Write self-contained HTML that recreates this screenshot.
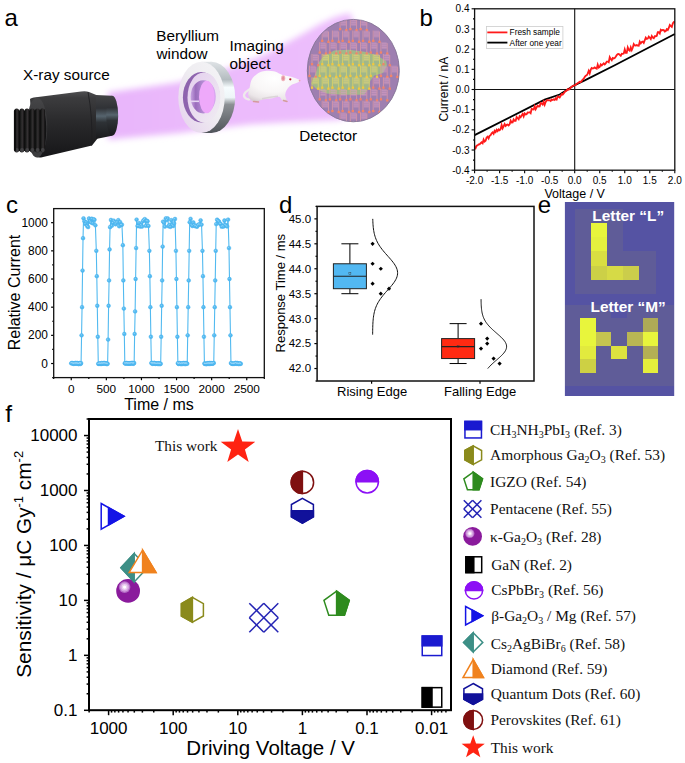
<!DOCTYPE html>
<html><head><meta charset="utf-8"><style>
html,body{margin:0;padding:0;background:#fff;}
body{width:685px;height:763px;overflow:hidden;font-family:"Liberation Sans",sans-serif;}
svg{display:block;}
</style></head><body>
<svg width="685" height="763" viewBox="0 0 685 763">
<rect width="685" height="763" fill="#fff"/>
<defs>
<filter id="blur5" x="-20%" y="-30%" width="140%" height="160%"><feGaussianBlur stdDeviation="3.2"/></filter>
<filter id="blur2" x="-20%" y="-20%" width="140%" height="140%"><feGaussianBlur stdDeviation="1.3"/></filter>
<filter id="blur1" x="-20%" y="-20%" width="140%" height="140%"><feGaussianBlur stdDeviation="0.6"/></filter>
<filter id="blur08" x="-20%" y="-20%" width="140%" height="140%"><feGaussianBlur stdDeviation="0.45"/></filter>
<linearGradient id="beamG" x1="0" y1="0" x2="1" y2="0">
 <stop offset="0" stop-color="#e8b5fb"/><stop offset="0.4" stop-color="#ebbafc"/><stop offset="1" stop-color="#edbefc"/>
</linearGradient>
<linearGradient id="bodyG" x1="0" y1="0" x2="0" y2="1">
 <stop offset="0" stop-color="#505052"/><stop offset="0.1" stop-color="#3c3c3e"/><stop offset="0.45" stop-color="#2a2a2c"/><stop offset="1" stop-color="#161618"/>
</linearGradient>
<linearGradient id="noseG" x1="0" y1="0" x2="0" y2="1">
 <stop offset="0" stop-color="#444446"/><stop offset="0.3" stop-color="#303236"/><stop offset="0.48" stop-color="#56646e"/><stop offset="0.62" stop-color="#2e3236"/><stop offset="1" stop-color="#1a1a1c"/>
</linearGradient>
<linearGradient id="endG" x1="0" y1="0" x2="0" y2="1">
 <stop offset="0" stop-color="#2c2e30"/><stop offset="0.45" stop-color="#5c6a74"/><stop offset="0.6" stop-color="#3a4248"/><stop offset="1" stop-color="#202224"/>
</linearGradient>
<linearGradient id="ridgeG" x1="0" y1="0" x2="1" y2="0">
 <stop offset="0" stop-color="#0a0a0a"/><stop offset="0.45" stop-color="#2a2a2a"/><stop offset="0.6" stop-color="#343032"/><stop offset="1" stop-color="#0e0e0e"/>
</linearGradient>
<linearGradient id="faceG" x1="0" y1="0" x2="0" y2="1">
 <stop offset="0" stop-color="#464648"/><stop offset="0.5" stop-color="#343436"/><stop offset="1" stop-color="#3e3e40"/>
</linearGradient>
<linearGradient id="ringFace" x1="1" y1="0" x2="0" y2="1">
 <stop offset="0" stop-color="#f4f4f6"/><stop offset="0.45" stop-color="#efedf1"/><stop offset="1" stop-color="#e6d0ee"/>
</linearGradient>
<linearGradient id="recessG" x1="0" y1="0" x2="1" y2="1">
 <stop offset="0" stop-color="#e4cfee"/><stop offset="1" stop-color="#f0ecf2"/>
</linearGradient>
<linearGradient id="ringSide" x1="0" y1="0" x2="0" y2="1">
 <stop offset="0" stop-color="#dfe3e6"/><stop offset="0.25" stop-color="#b4bcc0"/><stop offset="0.36" stop-color="#f6fcfe"/><stop offset="0.5" stop-color="#eef6f8"/><stop offset="0.6" stop-color="#8c9094"/><stop offset="1" stop-color="#50545a"/>
</linearGradient>
<linearGradient id="holeG" x1="0" y1="0" x2="1" y2="0">
 <stop offset="0" stop-color="#c8a4e2"/><stop offset="0.2" stop-color="#9a6cbc"/><stop offset="0.45" stop-color="#b088d0"/><stop offset="1" stop-color="#d8a8f0"/>
</linearGradient>
<radialGradient id="mouseG" cx="0.5" cy="0.25" r="0.8">
 <stop offset="0" stop-color="#ffffff"/><stop offset="0.55" stop-color="#f8f6f6"/><stop offset="0.85" stop-color="#ebe6e8"/><stop offset="1" stop-color="#d8d0d4"/>
</radialGradient>
<clipPath id="detClip"><ellipse cx="353.3" cy="70.6" rx="45.6" ry="50.8"/></clipPath>
</defs>
<polygon points="108,92.5 178,82.5 229,68 258,57.5 273,50.5 288,42 300,35.5 320,24 335,17 350,13 360,40 360,110 340,120 285,122.5 250,124.5 215,128.5 180,133 108,139.5" fill="url(#beamG)" filter="url(#blur5)"/>
<path d="M30,99 Q31,97.6 36,97.2 L81,91.5 Q86,90.8 89,92 L97.5,95.6 L97.5,138.5 L92,145.6 L41,157.4 Q36,158 34,155 Z" fill="url(#bodyG)"/>
<ellipse cx="37" cy="127.5" rx="10.2" ry="30" fill="url(#faceG)"/>
<ellipse cx="42" cy="130" rx="4.2" ry="21.5" fill="#121214"/>
<rect x="15" y="110.5" width="28" height="40.5" fill="#131313"/>
<rect x="14.2" y="108.6" width="4.9" height="43.8" rx="2.4" ry="2.6" fill="url(#ridgeG)"/>
<ellipse cx="16.8" cy="150" rx="2.0" ry="1.9" fill="#4a4a4c" opacity="0.75"/>
<rect x="19.4" y="108.6" width="4.9" height="43.8" rx="2.4" ry="2.6" fill="url(#ridgeG)"/>
<ellipse cx="22.0" cy="150" rx="2.0" ry="1.9" fill="#4a4a4c" opacity="0.75"/>
<rect x="24.6" y="108.6" width="4.9" height="43.8" rx="2.4" ry="2.6" fill="url(#ridgeG)"/>
<ellipse cx="27.2" cy="150" rx="2.0" ry="1.9" fill="#4a4a4c" opacity="0.75"/>
<rect x="29.8" y="108.6" width="4.9" height="43.8" rx="2.4" ry="2.6" fill="url(#ridgeG)"/>
<ellipse cx="32.4" cy="150" rx="2.0" ry="1.9" fill="#4a4a4c" opacity="0.75"/>
<rect x="35.0" y="108.6" width="4.9" height="43.8" rx="2.4" ry="2.6" fill="url(#ridgeG)"/>
<ellipse cx="37.6" cy="150" rx="2.0" ry="1.9" fill="#4a4a4c" opacity="0.75"/>
<rect x="40.2" y="108.6" width="4.9" height="43.8" rx="2.4" ry="2.6" fill="url(#ridgeG)"/>
<ellipse cx="42.8" cy="150" rx="2.0" ry="1.9" fill="#4a4a4c" opacity="0.75"/>
<rect x="13.9" y="110" width="2.2" height="41" rx="1.1" fill="#0c0c0c"/>
<path d="M96,95 L112,95.7 L112,135.7 L96,139 Z" fill="url(#noseG)"/>
<ellipse cx="112.2" cy="115.7" rx="6" ry="20" fill="url(#noseG)"/>
<path d="M88,92 Q93,118 91.5,145.5" stroke="#1e1e20" stroke-width="1" fill="none" opacity="0.8"/>
<ellipse cx="211.5" cy="97.4" rx="23.7" ry="35.6" fill="url(#ringSide)"/>
<rect x="201.5" y="61.8" width="10" height="71.2" fill="url(#ringSide)"/>
<ellipse cx="201.5" cy="97.4" rx="23.2" ry="35.6" fill="url(#ringFace)"/>
<ellipse cx="201.3" cy="97.2" rx="18.4" ry="25.2" fill="#8e64ae"/>
<ellipse cx="203.9" cy="97.4" rx="16.4" ry="25.0" fill="url(#recessG)"/>
<ellipse cx="203.2" cy="96.8" rx="12.6" ry="16.6" fill="url(#holeG)"/>
<ellipse cx="206.8" cy="97" rx="7.8" ry="16.2" fill="#eea9fa" filter="url(#blur08)"/>
<path d="M191,101.3 L199,101.3" stroke="#e4d4f2" stroke-width="1.6"/>
<g filter="url(#blur08)">
<path d="M250.00,89.00 C249.25,89.55 246.50,91.13 245.50,92.30 C244.50,93.47 243.88,94.95 244.00,96.00 C244.12,97.05 245.37,98.02 246.20,98.60 C247.03,99.18 248.53,99.35 249.00,99.50" stroke="#efeaec" stroke-width="2.3" fill="none" stroke-linecap="round"/>
<path d="M249.70,87.20 C250.32,84.52 250.57,81.50 251.90,79.20 C253.23,76.90 255.52,74.78 257.70,73.40 C259.88,72.02 262.32,71.27 265.00,70.90 C267.68,70.53 271.23,70.67 273.80,71.20 C276.37,71.73 278.70,73.37 280.40,74.10 C282.10,74.83 282.67,75.23 284.00,75.60 C285.33,75.97 286.70,75.95 288.40,76.30 C290.10,76.65 292.30,77.05 294.20,77.70 C296.10,78.35 299.30,79.35 299.80,80.20 C300.30,81.05 298.62,82.00 297.20,82.80 C295.78,83.60 293.00,83.90 291.30,85.00 C289.60,86.10 288.02,87.73 287.00,89.40 C285.98,91.07 285.27,93.13 285.20,95.00 C285.13,96.87 286.97,99.57 286.60,100.60 C286.23,101.63 284.27,101.85 283.00,101.20 C281.73,100.55 281.02,97.13 279.00,96.70 C276.98,96.27 273.72,98.08 270.90,98.60 C268.08,99.12 264.58,99.30 262.10,99.80 C259.62,100.30 257.82,101.53 256.00,101.60 C254.18,101.67 252.50,101.25 251.20,100.20 C249.90,99.15 248.45,97.47 248.20,95.30 C247.95,93.13 249.08,89.88 249.70,87.20 Z" fill="url(#mouseG)"/>
<path d="M262,98.8 Q270,97 278,96.2" stroke="#d6d0d2" stroke-width="1.6" fill="none" opacity="0.8"/>
<ellipse cx="283.2" cy="78.2" rx="2.1" ry="3.0" fill="#f0b4bc"/>
<ellipse cx="283.2" cy="78.2" rx="1.1" ry="1.9" fill="#e48e9c"/>
<circle cx="290.3" cy="79.3" r="1.15" fill="#b82434"/>
<circle cx="299.6" cy="80.6" r="0.9" fill="#f0a8b4"/>
<path d="M253.5,101.4 L258.5,101.9" stroke="#d49a9c" stroke-width="1.5" stroke-linecap="round"/>
<path d="M283.5,100.6 L287,101.4" stroke="#d49a9c" stroke-width="1.5" stroke-linecap="round"/>
</g>
<ellipse cx="353.3" cy="70.6" rx="46" ry="51.2" fill="#9e7fb0"/>
<ellipse cx="353.3" cy="70.6" rx="46" ry="51.2" fill="none" stroke="#857595" stroke-width="0.9"/>
<g clip-path="url(#detClip)">
<path d="M324,57.3 L334.2,51.5 L348.8,50.8 L366.3,53 L378,57.3 L385.3,61.7 L386,65.4 L382.4,72 L373.6,74.9 L369.2,80.7 L367.8,88 L363.4,93.8 L341.5,93.8 L326.9,92.4 L316.7,88 L312.3,83.6 L316.7,73.4 L319.6,63.2 Z" fill="#a0b78a" stroke="#a0b78a" stroke-width="2" stroke-linejoin="round" filter="url(#blur1)"/>
<rect x="340.9" y="18.8" width="5" height="7" fill="#dba0c4" opacity="0.35"/>
<path d="M340.9,20.4 h5 M340.9,22.3 h5 M340.9,24.2 h5" stroke="#dba0c4" stroke-width="0.6" opacity="0.7"/>
<path d="M340.1,18.8 V28.4 M346.4,19.8 V29.4" stroke="#eea0a4" stroke-width="0.75" opacity="0.85"/>
<rect x="339.0" y="28.0" width="2.3" height="2.3" fill="#f28468"/><rect x="345.2" y="29.0" width="2.3" height="2.3" fill="#f28468"/>
<rect x="351.1" y="18.8" width="5" height="7" fill="#dba0c4" opacity="0.35"/>
<path d="M351.1,20.4 h5 M351.1,22.3 h5 M351.1,24.2 h5" stroke="#dba0c4" stroke-width="0.6" opacity="0.7"/>
<path d="M350.3,18.8 V28.4 M356.6,19.8 V29.4" stroke="#eea0a4" stroke-width="0.75" opacity="0.85"/>
<rect x="349.2" y="28.0" width="2.3" height="2.3" fill="#f28468"/><rect x="355.4" y="29.0" width="2.3" height="2.3" fill="#f28468"/>
<rect x="361.3" y="18.8" width="5" height="7" fill="#dba0c4" opacity="0.35"/>
<path d="M361.3,20.4 h5 M361.3,22.3 h5 M361.3,24.2 h5" stroke="#dba0c4" stroke-width="0.6" opacity="0.7"/>
<path d="M360.5,18.8 V28.4 M366.8,19.8 V29.4" stroke="#eea0a4" stroke-width="0.75" opacity="0.85"/>
<rect x="359.4" y="28.0" width="2.3" height="2.3" fill="#f28468"/><rect x="365.6" y="29.0" width="2.3" height="2.3" fill="#f28468"/>
<rect x="323.0" y="30.5" width="5" height="7" fill="#dba0c4" opacity="0.35"/>
<path d="M323.0,32.1 h5 M323.0,34.0 h5 M323.0,35.9 h5" stroke="#dba0c4" stroke-width="0.6" opacity="0.7"/>
<path d="M322.2,30.5 V40.1 M328.5,31.5 V41.1" stroke="#eea0a4" stroke-width="0.75" opacity="0.85"/>
<rect x="321.1" y="39.7" width="2.3" height="2.3" fill="#f28468"/><rect x="327.3" y="40.7" width="2.3" height="2.3" fill="#f28468"/>
<rect x="333.2" y="30.5" width="5" height="7" fill="#dba0c4" opacity="0.35"/>
<path d="M333.2,32.1 h5 M333.2,34.0 h5 M333.2,35.9 h5" stroke="#dba0c4" stroke-width="0.6" opacity="0.7"/>
<path d="M332.4,30.5 V40.1 M338.7,31.5 V41.1" stroke="#eea0a4" stroke-width="0.75" opacity="0.85"/>
<rect x="331.3" y="39.7" width="2.3" height="2.3" fill="#f28468"/><rect x="337.6" y="40.7" width="2.3" height="2.3" fill="#f28468"/>
<rect x="343.4" y="30.5" width="5" height="7" fill="#dba0c4" opacity="0.35"/>
<path d="M343.4,32.1 h5 M343.4,34.0 h5 M343.4,35.9 h5" stroke="#dba0c4" stroke-width="0.6" opacity="0.7"/>
<path d="M342.6,30.5 V40.1 M348.9,31.5 V41.1" stroke="#eea0a4" stroke-width="0.75" opacity="0.85"/>
<rect x="341.5" y="39.7" width="2.3" height="2.3" fill="#f28468"/><rect x="347.8" y="40.7" width="2.3" height="2.3" fill="#f28468"/>
<rect x="353.6" y="30.5" width="5" height="7" fill="#dba0c4" opacity="0.35"/>
<path d="M353.6,32.1 h5 M353.6,34.0 h5 M353.6,35.9 h5" stroke="#dba0c4" stroke-width="0.6" opacity="0.7"/>
<path d="M352.8,30.5 V40.1 M359.1,31.5 V41.1" stroke="#eea0a4" stroke-width="0.75" opacity="0.85"/>
<rect x="351.7" y="39.7" width="2.3" height="2.3" fill="#f28468"/><rect x="357.9" y="40.7" width="2.3" height="2.3" fill="#f28468"/>
<rect x="363.8" y="30.5" width="5" height="7" fill="#dba0c4" opacity="0.35"/>
<path d="M363.8,32.1 h5 M363.8,34.0 h5 M363.8,35.9 h5" stroke="#dba0c4" stroke-width="0.6" opacity="0.7"/>
<path d="M363.0,30.5 V40.1 M369.3,31.5 V41.1" stroke="#eea0a4" stroke-width="0.75" opacity="0.85"/>
<rect x="361.9" y="39.7" width="2.3" height="2.3" fill="#f28468"/><rect x="368.1" y="40.7" width="2.3" height="2.3" fill="#f28468"/>
<rect x="374.0" y="30.5" width="5" height="7" fill="#dba0c4" opacity="0.35"/>
<path d="M374.0,32.1 h5 M374.0,34.0 h5 M374.0,35.9 h5" stroke="#dba0c4" stroke-width="0.6" opacity="0.7"/>
<path d="M373.2,30.5 V40.1 M379.5,31.5 V41.1" stroke="#eea0a4" stroke-width="0.75" opacity="0.85"/>
<rect x="372.1" y="39.7" width="2.3" height="2.3" fill="#f28468"/><rect x="378.3" y="40.7" width="2.3" height="2.3" fill="#f28468"/>
<rect x="320.5" y="42.2" width="5" height="7" fill="#dba0c4" opacity="0.35"/>
<path d="M320.5,43.8 h5 M320.5,45.7 h5 M320.5,47.6 h5" stroke="#dba0c4" stroke-width="0.6" opacity="0.7"/>
<path d="M319.7,42.2 V51.8 M326.0,43.2 V52.8" stroke="#eea0a4" stroke-width="0.75" opacity="0.85"/>
<rect x="318.6" y="51.4" width="2.3" height="2.3" fill="#f28468"/><rect x="324.8" y="52.4" width="2.3" height="2.3" fill="#f28468"/>
<rect x="330.7" y="42.2" width="5" height="7" fill="#dba0c4" opacity="0.35"/>
<path d="M330.7,43.8 h5 M330.7,45.7 h5 M330.7,47.6 h5" stroke="#dba0c4" stroke-width="0.6" opacity="0.7"/>
<path d="M329.9,42.2 V51.8 M336.2,43.2 V52.8" stroke="#eea0a4" stroke-width="0.75" opacity="0.85"/>
<rect x="328.8" y="51.4" width="2.3" height="2.3" fill="#f28468"/><rect x="335.1" y="52.4" width="2.3" height="2.3" fill="#f28468"/>
<rect x="340.9" y="42.2" width="5" height="7" fill="#dba0c4" opacity="0.35"/>
<path d="M340.9,43.8 h5 M340.9,45.7 h5 M340.9,47.6 h5" stroke="#dba0c4" stroke-width="0.6" opacity="0.7"/>
<path d="M340.1,42.2 V51.8 M346.4,43.2 V52.8" stroke="#eea0a4" stroke-width="0.75" opacity="0.85"/>
<rect x="339.0" y="51.4" width="2.3" height="2.3" fill="#f28468"/><rect x="345.2" y="52.4" width="2.3" height="2.3" fill="#f28468"/>
<rect x="351.1" y="42.2" width="5" height="7" fill="#dba0c4" opacity="0.35"/>
<path d="M351.1,43.8 h5 M351.1,45.7 h5 M351.1,47.6 h5" stroke="#dba0c4" stroke-width="0.6" opacity="0.7"/>
<path d="M350.3,42.2 V51.8 M356.6,43.2 V52.8" stroke="#eea0a4" stroke-width="0.75" opacity="0.85"/>
<rect x="349.2" y="51.4" width="2.3" height="2.3" fill="#f28468"/><rect x="355.4" y="52.4" width="2.3" height="2.3" fill="#f28468"/>
<rect x="361.3" y="42.2" width="5" height="7" fill="#dba0c4" opacity="0.35"/>
<path d="M361.3,43.8 h5 M361.3,45.7 h5 M361.3,47.6 h5" stroke="#dba0c4" stroke-width="0.6" opacity="0.7"/>
<path d="M360.5,42.2 V51.8 M366.8,43.2 V52.8" stroke="#eea0a4" stroke-width="0.75" opacity="0.85"/>
<rect x="359.4" y="51.4" width="2.3" height="2.3" fill="#f28468"/><rect x="365.6" y="52.4" width="2.3" height="2.3" fill="#f28468"/>
<rect x="371.5" y="42.2" width="5" height="7" fill="#dba0c4" opacity="0.35"/>
<path d="M371.5,43.8 h5 M371.5,45.7 h5 M371.5,47.6 h5" stroke="#dba0c4" stroke-width="0.6" opacity="0.7"/>
<path d="M370.7,42.2 V51.8 M377.0,43.2 V52.8" stroke="#eea0a4" stroke-width="0.75" opacity="0.85"/>
<rect x="369.6" y="51.4" width="2.3" height="2.3" fill="#f28468"/><rect x="375.8" y="52.4" width="2.3" height="2.3" fill="#f28468"/>
<rect x="381.7" y="42.2" width="5" height="7" fill="#dba0c4" opacity="0.35"/>
<path d="M381.7,43.8 h5 M381.7,45.7 h5 M381.7,47.6 h5" stroke="#dba0c4" stroke-width="0.6" opacity="0.7"/>
<path d="M380.9,42.2 V51.8 M387.2,43.2 V52.8" stroke="#eea0a4" stroke-width="0.75" opacity="0.85"/>
<rect x="379.8" y="51.4" width="2.3" height="2.3" fill="#f28468"/><rect x="386.1" y="52.4" width="2.3" height="2.3" fill="#f28468"/>
<rect x="312.8" y="53.9" width="5" height="7" fill="#dba0c4" opacity="0.35"/>
<path d="M312.8,55.5 h5 M312.8,57.4 h5 M312.8,59.3 h5" stroke="#dba0c4" stroke-width="0.6" opacity="0.7"/>
<path d="M312.0,53.9 V63.5 M318.3,54.9 V64.5" stroke="#eea0a4" stroke-width="0.75" opacity="0.85"/>
<rect x="310.9" y="63.1" width="2.3" height="2.3" fill="#f28468"/><rect x="317.1" y="64.1" width="2.3" height="2.3" fill="#f28468"/>
<rect x="323.0" y="53.9" width="5" height="7" fill="#e8d878" opacity="0.35"/>
<path d="M323.0,55.5 h5 M323.0,57.4 h5 M323.0,59.3 h5" stroke="#e8d878" stroke-width="0.6" opacity="0.7"/>
<path d="M322.2,53.9 V63.5 M328.5,54.9 V64.5" stroke="#eedc5c" stroke-width="0.75" opacity="0.85"/>
<rect x="321.1" y="63.1" width="2.3" height="2.3" fill="#f2c83c"/><rect x="327.3" y="64.1" width="2.3" height="2.3" fill="#f2c83c"/>
<rect x="333.2" y="53.9" width="5" height="7" fill="#e8d878" opacity="0.35"/>
<path d="M333.2,55.5 h5 M333.2,57.4 h5 M333.2,59.3 h5" stroke="#e8d878" stroke-width="0.6" opacity="0.7"/>
<path d="M332.4,53.9 V63.5 M338.7,54.9 V64.5" stroke="#eedc5c" stroke-width="0.75" opacity="0.85"/>
<rect x="331.3" y="63.1" width="2.3" height="2.3" fill="#f2c83c"/><rect x="337.6" y="64.1" width="2.3" height="2.3" fill="#f2c83c"/>
<rect x="343.4" y="53.9" width="5" height="7" fill="#e8d878" opacity="0.35"/>
<path d="M343.4,55.5 h5 M343.4,57.4 h5 M343.4,59.3 h5" stroke="#e8d878" stroke-width="0.6" opacity="0.7"/>
<path d="M342.6,53.9 V63.5 M348.9,54.9 V64.5" stroke="#eedc5c" stroke-width="0.75" opacity="0.85"/>
<rect x="341.5" y="63.1" width="2.3" height="2.3" fill="#f2c83c"/><rect x="347.8" y="64.1" width="2.3" height="2.3" fill="#f2c83c"/>
<rect x="353.6" y="53.9" width="5" height="7" fill="#e8d878" opacity="0.35"/>
<path d="M353.6,55.5 h5 M353.6,57.4 h5 M353.6,59.3 h5" stroke="#e8d878" stroke-width="0.6" opacity="0.7"/>
<path d="M352.8,53.9 V63.5 M359.1,54.9 V64.5" stroke="#eedc5c" stroke-width="0.75" opacity="0.85"/>
<rect x="351.7" y="63.1" width="2.3" height="2.3" fill="#f2c83c"/><rect x="357.9" y="64.1" width="2.3" height="2.3" fill="#f2c83c"/>
<rect x="363.8" y="53.9" width="5" height="7" fill="#e8d878" opacity="0.35"/>
<path d="M363.8,55.5 h5 M363.8,57.4 h5 M363.8,59.3 h5" stroke="#e8d878" stroke-width="0.6" opacity="0.7"/>
<path d="M363.0,53.9 V63.5 M369.3,54.9 V64.5" stroke="#eedc5c" stroke-width="0.75" opacity="0.85"/>
<rect x="361.9" y="63.1" width="2.3" height="2.3" fill="#f2c83c"/><rect x="368.1" y="64.1" width="2.3" height="2.3" fill="#f2c83c"/>
<rect x="374.0" y="53.9" width="5" height="7" fill="#e8d878" opacity="0.35"/>
<path d="M374.0,55.5 h5 M374.0,57.4 h5 M374.0,59.3 h5" stroke="#e8d878" stroke-width="0.6" opacity="0.7"/>
<path d="M373.2,53.9 V63.5 M379.5,54.9 V64.5" stroke="#eedc5c" stroke-width="0.75" opacity="0.85"/>
<rect x="372.1" y="63.1" width="2.3" height="2.3" fill="#f2c83c"/><rect x="378.3" y="64.1" width="2.3" height="2.3" fill="#f2c83c"/>
<rect x="384.2" y="53.9" width="5" height="7" fill="#dba0c4" opacity="0.35"/>
<path d="M384.2,55.5 h5 M384.2,57.4 h5 M384.2,59.3 h5" stroke="#dba0c4" stroke-width="0.6" opacity="0.7"/>
<path d="M383.4,53.9 V63.5 M389.7,54.9 V64.5" stroke="#eea0a4" stroke-width="0.75" opacity="0.85"/>
<rect x="382.3" y="63.1" width="2.3" height="2.3" fill="#f28468"/><rect x="388.6" y="64.1" width="2.3" height="2.3" fill="#f28468"/>
<rect x="310.3" y="65.6" width="5" height="7" fill="#dba0c4" opacity="0.35"/>
<path d="M310.3,67.2 h5 M310.3,69.1 h5 M310.3,71.0 h5" stroke="#dba0c4" stroke-width="0.6" opacity="0.7"/>
<path d="M309.5,65.6 V75.2 M315.8,66.6 V76.2" stroke="#eea0a4" stroke-width="0.75" opacity="0.85"/>
<rect x="308.4" y="74.8" width="2.3" height="2.3" fill="#f28468"/><rect x="314.6" y="75.8" width="2.3" height="2.3" fill="#f28468"/>
<rect x="320.5" y="65.6" width="5" height="7" fill="#e8d878" opacity="0.35"/>
<path d="M320.5,67.2 h5 M320.5,69.1 h5 M320.5,71.0 h5" stroke="#e8d878" stroke-width="0.6" opacity="0.7"/>
<path d="M319.7,65.6 V75.2 M326.0,66.6 V76.2" stroke="#eedc5c" stroke-width="0.75" opacity="0.85"/>
<rect x="318.6" y="74.8" width="2.3" height="2.3" fill="#f2c83c"/><rect x="324.8" y="75.8" width="2.3" height="2.3" fill="#f2c83c"/>
<rect x="330.7" y="65.6" width="5" height="7" fill="#e8d878" opacity="0.35"/>
<path d="M330.7,67.2 h5 M330.7,69.1 h5 M330.7,71.0 h5" stroke="#e8d878" stroke-width="0.6" opacity="0.7"/>
<path d="M329.9,65.6 V75.2 M336.2,66.6 V76.2" stroke="#eedc5c" stroke-width="0.75" opacity="0.85"/>
<rect x="328.8" y="74.8" width="2.3" height="2.3" fill="#f2c83c"/><rect x="335.1" y="75.8" width="2.3" height="2.3" fill="#f2c83c"/>
<rect x="340.9" y="65.6" width="5" height="7" fill="#e8d878" opacity="0.35"/>
<path d="M340.9,67.2 h5 M340.9,69.1 h5 M340.9,71.0 h5" stroke="#e8d878" stroke-width="0.6" opacity="0.7"/>
<path d="M340.1,65.6 V75.2 M346.4,66.6 V76.2" stroke="#eedc5c" stroke-width="0.75" opacity="0.85"/>
<rect x="339.0" y="74.8" width="2.3" height="2.3" fill="#f2c83c"/><rect x="345.2" y="75.8" width="2.3" height="2.3" fill="#f2c83c"/>
<rect x="351.1" y="65.6" width="5" height="7" fill="#e8d878" opacity="0.35"/>
<path d="M351.1,67.2 h5 M351.1,69.1 h5 M351.1,71.0 h5" stroke="#e8d878" stroke-width="0.6" opacity="0.7"/>
<path d="M350.3,65.6 V75.2 M356.6,66.6 V76.2" stroke="#eedc5c" stroke-width="0.75" opacity="0.85"/>
<rect x="349.2" y="74.8" width="2.3" height="2.3" fill="#f2c83c"/><rect x="355.4" y="75.8" width="2.3" height="2.3" fill="#f2c83c"/>
<rect x="361.3" y="65.6" width="5" height="7" fill="#e8d878" opacity="0.35"/>
<path d="M361.3,67.2 h5 M361.3,69.1 h5 M361.3,71.0 h5" stroke="#e8d878" stroke-width="0.6" opacity="0.7"/>
<path d="M360.5,65.6 V75.2 M366.8,66.6 V76.2" stroke="#eedc5c" stroke-width="0.75" opacity="0.85"/>
<rect x="359.4" y="74.8" width="2.3" height="2.3" fill="#f2c83c"/><rect x="365.6" y="75.8" width="2.3" height="2.3" fill="#f2c83c"/>
<rect x="371.5" y="65.6" width="5" height="7" fill="#e8d878" opacity="0.35"/>
<path d="M371.5,67.2 h5 M371.5,69.1 h5 M371.5,71.0 h5" stroke="#e8d878" stroke-width="0.6" opacity="0.7"/>
<path d="M370.7,65.6 V75.2 M377.0,66.6 V76.2" stroke="#eedc5c" stroke-width="0.75" opacity="0.85"/>
<rect x="369.6" y="74.8" width="2.3" height="2.3" fill="#f2c83c"/><rect x="375.8" y="75.8" width="2.3" height="2.3" fill="#f2c83c"/>
<rect x="381.7" y="65.6" width="5" height="7" fill="#dba0c4" opacity="0.35"/>
<path d="M381.7,67.2 h5 M381.7,69.1 h5 M381.7,71.0 h5" stroke="#dba0c4" stroke-width="0.6" opacity="0.7"/>
<path d="M380.9,65.6 V75.2 M387.2,66.6 V76.2" stroke="#eea0a4" stroke-width="0.75" opacity="0.85"/>
<rect x="379.8" y="74.8" width="2.3" height="2.3" fill="#f28468"/><rect x="386.1" y="75.8" width="2.3" height="2.3" fill="#f28468"/>
<rect x="391.9" y="65.6" width="5" height="7" fill="#dba0c4" opacity="0.35"/>
<path d="M391.9,67.2 h5 M391.9,69.1 h5 M391.9,71.0 h5" stroke="#dba0c4" stroke-width="0.6" opacity="0.7"/>
<path d="M391.1,65.6 V75.2 M397.4,66.6 V76.2" stroke="#eea0a4" stroke-width="0.75" opacity="0.85"/>
<rect x="390.0" y="74.8" width="2.3" height="2.3" fill="#f28468"/><rect x="396.2" y="75.8" width="2.3" height="2.3" fill="#f28468"/>
<rect x="312.8" y="77.3" width="5" height="7" fill="#e8d878" opacity="0.35"/>
<path d="M312.8,78.9 h5 M312.8,80.8 h5 M312.8,82.7 h5" stroke="#e8d878" stroke-width="0.6" opacity="0.7"/>
<path d="M312.0,77.3 V86.9 M318.3,78.3 V87.9" stroke="#eedc5c" stroke-width="0.75" opacity="0.85"/>
<rect x="310.9" y="86.5" width="2.3" height="2.3" fill="#f2c83c"/><rect x="317.1" y="87.5" width="2.3" height="2.3" fill="#f2c83c"/>
<rect x="323.0" y="77.3" width="5" height="7" fill="#e8d878" opacity="0.35"/>
<path d="M323.0,78.9 h5 M323.0,80.8 h5 M323.0,82.7 h5" stroke="#e8d878" stroke-width="0.6" opacity="0.7"/>
<path d="M322.2,77.3 V86.9 M328.5,78.3 V87.9" stroke="#eedc5c" stroke-width="0.75" opacity="0.85"/>
<rect x="321.1" y="86.5" width="2.3" height="2.3" fill="#f2c83c"/><rect x="327.3" y="87.5" width="2.3" height="2.3" fill="#f2c83c"/>
<rect x="333.2" y="77.3" width="5" height="7" fill="#e8d878" opacity="0.35"/>
<path d="M333.2,78.9 h5 M333.2,80.8 h5 M333.2,82.7 h5" stroke="#e8d878" stroke-width="0.6" opacity="0.7"/>
<path d="M332.4,77.3 V86.9 M338.7,78.3 V87.9" stroke="#eedc5c" stroke-width="0.75" opacity="0.85"/>
<rect x="331.3" y="86.5" width="2.3" height="2.3" fill="#f2c83c"/><rect x="337.6" y="87.5" width="2.3" height="2.3" fill="#f2c83c"/>
<rect x="343.4" y="77.3" width="5" height="7" fill="#e8d878" opacity="0.35"/>
<path d="M343.4,78.9 h5 M343.4,80.8 h5 M343.4,82.7 h5" stroke="#e8d878" stroke-width="0.6" opacity="0.7"/>
<path d="M342.6,77.3 V86.9 M348.9,78.3 V87.9" stroke="#eedc5c" stroke-width="0.75" opacity="0.85"/>
<rect x="341.5" y="86.5" width="2.3" height="2.3" fill="#f2c83c"/><rect x="347.8" y="87.5" width="2.3" height="2.3" fill="#f2c83c"/>
<rect x="353.6" y="77.3" width="5" height="7" fill="#e8d878" opacity="0.35"/>
<path d="M353.6,78.9 h5 M353.6,80.8 h5 M353.6,82.7 h5" stroke="#e8d878" stroke-width="0.6" opacity="0.7"/>
<path d="M352.8,77.3 V86.9 M359.1,78.3 V87.9" stroke="#eedc5c" stroke-width="0.75" opacity="0.85"/>
<rect x="351.7" y="86.5" width="2.3" height="2.3" fill="#f2c83c"/><rect x="357.9" y="87.5" width="2.3" height="2.3" fill="#f2c83c"/>
<rect x="363.8" y="77.3" width="5" height="7" fill="#e8d878" opacity="0.35"/>
<path d="M363.8,78.9 h5 M363.8,80.8 h5 M363.8,82.7 h5" stroke="#e8d878" stroke-width="0.6" opacity="0.7"/>
<path d="M363.0,77.3 V86.9 M369.3,78.3 V87.9" stroke="#eedc5c" stroke-width="0.75" opacity="0.85"/>
<rect x="361.9" y="86.5" width="2.3" height="2.3" fill="#f2c83c"/><rect x="368.1" y="87.5" width="2.3" height="2.3" fill="#f2c83c"/>
<rect x="374.0" y="77.3" width="5" height="7" fill="#dba0c4" opacity="0.35"/>
<path d="M374.0,78.9 h5 M374.0,80.8 h5 M374.0,82.7 h5" stroke="#dba0c4" stroke-width="0.6" opacity="0.7"/>
<path d="M373.2,77.3 V86.9 M379.5,78.3 V87.9" stroke="#eea0a4" stroke-width="0.75" opacity="0.85"/>
<rect x="372.1" y="86.5" width="2.3" height="2.3" fill="#f28468"/><rect x="378.3" y="87.5" width="2.3" height="2.3" fill="#f28468"/>
<rect x="384.2" y="77.3" width="5" height="7" fill="#dba0c4" opacity="0.35"/>
<path d="M384.2,78.9 h5 M384.2,80.8 h5 M384.2,82.7 h5" stroke="#dba0c4" stroke-width="0.6" opacity="0.7"/>
<path d="M383.4,77.3 V86.9 M389.7,78.3 V87.9" stroke="#eea0a4" stroke-width="0.75" opacity="0.85"/>
<rect x="382.3" y="86.5" width="2.3" height="2.3" fill="#f28468"/><rect x="388.6" y="87.5" width="2.3" height="2.3" fill="#f28468"/>
<rect x="320.5" y="89.0" width="5" height="7" fill="#dba0c4" opacity="0.35"/>
<path d="M320.5,90.6 h5 M320.5,92.5 h5 M320.5,94.4 h5" stroke="#dba0c4" stroke-width="0.6" opacity="0.7"/>
<path d="M319.7,89.0 V98.6 M326.0,90.0 V99.6" stroke="#eea0a4" stroke-width="0.75" opacity="0.85"/>
<rect x="318.6" y="98.2" width="2.3" height="2.3" fill="#f28468"/><rect x="324.8" y="99.2" width="2.3" height="2.3" fill="#f28468"/>
<rect x="330.7" y="89.0" width="5" height="7" fill="#dba0c4" opacity="0.35"/>
<path d="M330.7,90.6 h5 M330.7,92.5 h5 M330.7,94.4 h5" stroke="#dba0c4" stroke-width="0.6" opacity="0.7"/>
<path d="M329.9,89.0 V98.6 M336.2,90.0 V99.6" stroke="#eea0a4" stroke-width="0.75" opacity="0.85"/>
<rect x="328.8" y="98.2" width="2.3" height="2.3" fill="#f28468"/><rect x="335.1" y="99.2" width="2.3" height="2.3" fill="#f28468"/>
<rect x="340.9" y="89.0" width="5" height="7" fill="#dba0c4" opacity="0.35"/>
<path d="M340.9,90.6 h5 M340.9,92.5 h5 M340.9,94.4 h5" stroke="#dba0c4" stroke-width="0.6" opacity="0.7"/>
<path d="M340.1,89.0 V98.6 M346.4,90.0 V99.6" stroke="#eea0a4" stroke-width="0.75" opacity="0.85"/>
<rect x="339.0" y="98.2" width="2.3" height="2.3" fill="#f28468"/><rect x="345.2" y="99.2" width="2.3" height="2.3" fill="#f28468"/>
<rect x="351.1" y="89.0" width="5" height="7" fill="#dba0c4" opacity="0.35"/>
<path d="M351.1,90.6 h5 M351.1,92.5 h5 M351.1,94.4 h5" stroke="#dba0c4" stroke-width="0.6" opacity="0.7"/>
<path d="M350.3,89.0 V98.6 M356.6,90.0 V99.6" stroke="#eea0a4" stroke-width="0.75" opacity="0.85"/>
<rect x="349.2" y="98.2" width="2.3" height="2.3" fill="#f28468"/><rect x="355.4" y="99.2" width="2.3" height="2.3" fill="#f28468"/>
<rect x="361.3" y="89.0" width="5" height="7" fill="#dba0c4" opacity="0.35"/>
<path d="M361.3,90.6 h5 M361.3,92.5 h5 M361.3,94.4 h5" stroke="#dba0c4" stroke-width="0.6" opacity="0.7"/>
<path d="M360.5,89.0 V98.6 M366.8,90.0 V99.6" stroke="#eea0a4" stroke-width="0.75" opacity="0.85"/>
<rect x="359.4" y="98.2" width="2.3" height="2.3" fill="#f28468"/><rect x="365.6" y="99.2" width="2.3" height="2.3" fill="#f28468"/>
<rect x="371.5" y="89.0" width="5" height="7" fill="#dba0c4" opacity="0.35"/>
<path d="M371.5,90.6 h5 M371.5,92.5 h5 M371.5,94.4 h5" stroke="#dba0c4" stroke-width="0.6" opacity="0.7"/>
<path d="M370.7,89.0 V98.6 M377.0,90.0 V99.6" stroke="#eea0a4" stroke-width="0.75" opacity="0.85"/>
<rect x="369.6" y="98.2" width="2.3" height="2.3" fill="#f28468"/><rect x="375.8" y="99.2" width="2.3" height="2.3" fill="#f28468"/>
<rect x="381.7" y="89.0" width="5" height="7" fill="#dba0c4" opacity="0.35"/>
<path d="M381.7,90.6 h5 M381.7,92.5 h5 M381.7,94.4 h5" stroke="#dba0c4" stroke-width="0.6" opacity="0.7"/>
<path d="M380.9,89.0 V98.6 M387.2,90.0 V99.6" stroke="#eea0a4" stroke-width="0.75" opacity="0.85"/>
<rect x="379.8" y="98.2" width="2.3" height="2.3" fill="#f28468"/><rect x="386.1" y="99.2" width="2.3" height="2.3" fill="#f28468"/>
<rect x="323.0" y="100.7" width="5" height="7" fill="#dba0c4" opacity="0.35"/>
<path d="M323.0,102.3 h5 M323.0,104.2 h5 M323.0,106.1 h5" stroke="#dba0c4" stroke-width="0.6" opacity="0.7"/>
<path d="M322.2,100.7 V110.3 M328.5,101.7 V111.3" stroke="#eea0a4" stroke-width="0.75" opacity="0.85"/>
<rect x="321.1" y="109.9" width="2.3" height="2.3" fill="#f28468"/><rect x="327.3" y="110.9" width="2.3" height="2.3" fill="#f28468"/>
<rect x="333.2" y="100.7" width="5" height="7" fill="#dba0c4" opacity="0.35"/>
<path d="M333.2,102.3 h5 M333.2,104.2 h5 M333.2,106.1 h5" stroke="#dba0c4" stroke-width="0.6" opacity="0.7"/>
<path d="M332.4,100.7 V110.3 M338.7,101.7 V111.3" stroke="#eea0a4" stroke-width="0.75" opacity="0.85"/>
<rect x="331.3" y="109.9" width="2.3" height="2.3" fill="#f28468"/><rect x="337.6" y="110.9" width="2.3" height="2.3" fill="#f28468"/>
<rect x="343.4" y="100.7" width="5" height="7" fill="#dba0c4" opacity="0.35"/>
<path d="M343.4,102.3 h5 M343.4,104.2 h5 M343.4,106.1 h5" stroke="#dba0c4" stroke-width="0.6" opacity="0.7"/>
<path d="M342.6,100.7 V110.3 M348.9,101.7 V111.3" stroke="#eea0a4" stroke-width="0.75" opacity="0.85"/>
<rect x="341.5" y="109.9" width="2.3" height="2.3" fill="#f28468"/><rect x="347.8" y="110.9" width="2.3" height="2.3" fill="#f28468"/>
<rect x="353.6" y="100.7" width="5" height="7" fill="#dba0c4" opacity="0.35"/>
<path d="M353.6,102.3 h5 M353.6,104.2 h5 M353.6,106.1 h5" stroke="#dba0c4" stroke-width="0.6" opacity="0.7"/>
<path d="M352.8,100.7 V110.3 M359.1,101.7 V111.3" stroke="#eea0a4" stroke-width="0.75" opacity="0.85"/>
<rect x="351.7" y="109.9" width="2.3" height="2.3" fill="#f28468"/><rect x="357.9" y="110.9" width="2.3" height="2.3" fill="#f28468"/>
<rect x="363.8" y="100.7" width="5" height="7" fill="#dba0c4" opacity="0.35"/>
<path d="M363.8,102.3 h5 M363.8,104.2 h5 M363.8,106.1 h5" stroke="#dba0c4" stroke-width="0.6" opacity="0.7"/>
<path d="M363.0,100.7 V110.3 M369.3,101.7 V111.3" stroke="#eea0a4" stroke-width="0.75" opacity="0.85"/>
<rect x="361.9" y="109.9" width="2.3" height="2.3" fill="#f28468"/><rect x="368.1" y="110.9" width="2.3" height="2.3" fill="#f28468"/>
<rect x="374.0" y="100.7" width="5" height="7" fill="#dba0c4" opacity="0.35"/>
<path d="M374.0,102.3 h5 M374.0,104.2 h5 M374.0,106.1 h5" stroke="#dba0c4" stroke-width="0.6" opacity="0.7"/>
<path d="M373.2,100.7 V110.3 M379.5,101.7 V111.3" stroke="#eea0a4" stroke-width="0.75" opacity="0.85"/>
<rect x="372.1" y="109.9" width="2.3" height="2.3" fill="#f28468"/><rect x="378.3" y="110.9" width="2.3" height="2.3" fill="#f28468"/>
<rect x="340.9" y="112.4" width="5" height="7" fill="#dba0c4" opacity="0.35"/>
<path d="M340.9,114.0 h5 M340.9,115.9 h5 M340.9,117.8 h5" stroke="#dba0c4" stroke-width="0.6" opacity="0.7"/>
<path d="M340.1,112.4 V122.0 M346.4,113.4 V123.0" stroke="#eea0a4" stroke-width="0.75" opacity="0.85"/>
<rect x="339.0" y="121.6" width="2.3" height="2.3" fill="#f28468"/><rect x="345.2" y="122.6" width="2.3" height="2.3" fill="#f28468"/>
<rect x="351.1" y="112.4" width="5" height="7" fill="#dba0c4" opacity="0.35"/>
<path d="M351.1,114.0 h5 M351.1,115.9 h5 M351.1,117.8 h5" stroke="#dba0c4" stroke-width="0.6" opacity="0.7"/>
<path d="M350.3,112.4 V122.0 M356.6,113.4 V123.0" stroke="#eea0a4" stroke-width="0.75" opacity="0.85"/>
<rect x="349.2" y="121.6" width="2.3" height="2.3" fill="#f28468"/><rect x="355.4" y="122.6" width="2.3" height="2.3" fill="#f28468"/>
<rect x="361.3" y="112.4" width="5" height="7" fill="#dba0c4" opacity="0.35"/>
<path d="M361.3,114.0 h5 M361.3,115.9 h5 M361.3,117.8 h5" stroke="#dba0c4" stroke-width="0.6" opacity="0.7"/>
<path d="M360.5,112.4 V122.0 M366.8,113.4 V123.0" stroke="#eea0a4" stroke-width="0.75" opacity="0.85"/>
<rect x="359.4" y="121.6" width="2.3" height="2.3" fill="#f28468"/><rect x="365.6" y="122.6" width="2.3" height="2.3" fill="#f28468"/>
</g>
<text x="23" y="79.6" font-size="15.3" font-family="Liberation Sans, sans-serif">X-ray source</text>
<text x="156.2" y="41" font-size="15.3" font-family="Liberation Sans, sans-serif">Beryllium</text>
<text x="156.5" y="59" font-size="15.3" font-family="Liberation Sans, sans-serif">window</text>
<text x="229.4" y="51" font-size="15.3" font-family="Liberation Sans, sans-serif">Imaging</text>
<text x="229.6" y="69" font-size="15.3" font-family="Liberation Sans, sans-serif">object</text>
<text x="299.3" y="141" font-size="15.3" font-family="Liberation Sans, sans-serif">Detector</text>
<text x="4.6" y="25.8" font-size="24" font-family="Liberation Sans, sans-serif">a</text>
<line x1="474.60" y1="89.50" x2="674.80" y2="89.50" stroke="#111" stroke-width="1.1" />
<line x1="574.70" y1="8.80" x2="574.70" y2="170.20" stroke="#111" stroke-width="1.1" />
<line x1="474.60" y1="170.20" x2="474.60" y2="173.20" stroke="#000" stroke-width="1.1" />
<line x1="487.11" y1="170.20" x2="487.11" y2="171.80" stroke="#000" stroke-width="1.1" />
<line x1="499.62" y1="170.20" x2="499.62" y2="173.20" stroke="#000" stroke-width="1.1" />
<line x1="512.14" y1="170.20" x2="512.14" y2="171.80" stroke="#000" stroke-width="1.1" />
<line x1="524.65" y1="170.20" x2="524.65" y2="173.20" stroke="#000" stroke-width="1.1" />
<line x1="537.16" y1="170.20" x2="537.16" y2="171.80" stroke="#000" stroke-width="1.1" />
<line x1="549.67" y1="170.20" x2="549.67" y2="173.20" stroke="#000" stroke-width="1.1" />
<line x1="562.19" y1="170.20" x2="562.19" y2="171.80" stroke="#000" stroke-width="1.1" />
<line x1="574.70" y1="170.20" x2="574.70" y2="173.20" stroke="#000" stroke-width="1.1" />
<line x1="587.21" y1="170.20" x2="587.21" y2="171.80" stroke="#000" stroke-width="1.1" />
<line x1="599.73" y1="170.20" x2="599.73" y2="173.20" stroke="#000" stroke-width="1.1" />
<line x1="612.24" y1="170.20" x2="612.24" y2="171.80" stroke="#000" stroke-width="1.1" />
<line x1="624.75" y1="170.20" x2="624.75" y2="173.20" stroke="#000" stroke-width="1.1" />
<line x1="637.26" y1="170.20" x2="637.26" y2="171.80" stroke="#000" stroke-width="1.1" />
<line x1="649.77" y1="170.20" x2="649.77" y2="173.20" stroke="#000" stroke-width="1.1" />
<line x1="662.29" y1="170.20" x2="662.29" y2="171.80" stroke="#000" stroke-width="1.1" />
<line x1="674.80" y1="170.20" x2="674.80" y2="173.20" stroke="#000" stroke-width="1.1" />
<line x1="471.60" y1="170.20" x2="474.60" y2="170.20" stroke="#000" stroke-width="1.1" />
<line x1="473.00" y1="160.11" x2="474.60" y2="160.11" stroke="#000" stroke-width="1.1" />
<line x1="471.60" y1="150.02" x2="474.60" y2="150.02" stroke="#000" stroke-width="1.1" />
<line x1="473.00" y1="139.94" x2="474.60" y2="139.94" stroke="#000" stroke-width="1.1" />
<line x1="471.60" y1="129.85" x2="474.60" y2="129.85" stroke="#000" stroke-width="1.1" />
<line x1="473.00" y1="119.76" x2="474.60" y2="119.76" stroke="#000" stroke-width="1.1" />
<line x1="471.60" y1="109.67" x2="474.60" y2="109.67" stroke="#000" stroke-width="1.1" />
<line x1="473.00" y1="99.59" x2="474.60" y2="99.59" stroke="#000" stroke-width="1.1" />
<line x1="471.60" y1="89.50" x2="474.60" y2="89.50" stroke="#000" stroke-width="1.1" />
<line x1="473.00" y1="79.41" x2="474.60" y2="79.41" stroke="#000" stroke-width="1.1" />
<line x1="471.60" y1="69.33" x2="474.60" y2="69.33" stroke="#000" stroke-width="1.1" />
<line x1="473.00" y1="59.24" x2="474.60" y2="59.24" stroke="#000" stroke-width="1.1" />
<line x1="471.60" y1="49.15" x2="474.60" y2="49.15" stroke="#000" stroke-width="1.1" />
<line x1="473.00" y1="39.06" x2="474.60" y2="39.06" stroke="#000" stroke-width="1.1" />
<line x1="471.60" y1="28.97" x2="474.60" y2="28.97" stroke="#000" stroke-width="1.1" />
<line x1="473.00" y1="18.89" x2="474.60" y2="18.89" stroke="#000" stroke-width="1.1" />
<line x1="471.60" y1="8.80" x2="474.60" y2="8.80" stroke="#000" stroke-width="1.1" />
<text x="474.60" y="183.80" font-size="10" text-anchor="middle" font-family="Liberation Sans, sans-serif" >-2.0</text>
<text x="499.62" y="183.80" font-size="10" text-anchor="middle" font-family="Liberation Sans, sans-serif" >-1.5</text>
<text x="524.65" y="183.80" font-size="10" text-anchor="middle" font-family="Liberation Sans, sans-serif" >-1.0</text>
<text x="549.67" y="183.80" font-size="10" text-anchor="middle" font-family="Liberation Sans, sans-serif" >-0.5</text>
<text x="574.70" y="183.80" font-size="10" text-anchor="middle" font-family="Liberation Sans, sans-serif" >0.0</text>
<text x="599.73" y="183.80" font-size="10" text-anchor="middle" font-family="Liberation Sans, sans-serif" >0.5</text>
<text x="624.75" y="183.80" font-size="10" text-anchor="middle" font-family="Liberation Sans, sans-serif" >1.0</text>
<text x="649.77" y="183.80" font-size="10" text-anchor="middle" font-family="Liberation Sans, sans-serif" >1.5</text>
<text x="674.80" y="183.80" font-size="10" text-anchor="middle" font-family="Liberation Sans, sans-serif" >2.0</text>
<text x="469.50" y="173.80" font-size="10" text-anchor="end" font-family="Liberation Sans, sans-serif" >-0.4</text>
<text x="469.50" y="153.62" font-size="10" text-anchor="end" font-family="Liberation Sans, sans-serif" >-0.3</text>
<text x="469.50" y="133.45" font-size="10" text-anchor="end" font-family="Liberation Sans, sans-serif" >-0.2</text>
<text x="469.50" y="113.27" font-size="10" text-anchor="end" font-family="Liberation Sans, sans-serif" >-0.1</text>
<text x="469.50" y="93.10" font-size="10" text-anchor="end" font-family="Liberation Sans, sans-serif" >0.0</text>
<text x="469.50" y="72.92" font-size="10" text-anchor="end" font-family="Liberation Sans, sans-serif" >0.1</text>
<text x="469.50" y="52.75" font-size="10" text-anchor="end" font-family="Liberation Sans, sans-serif" >0.2</text>
<text x="469.50" y="32.57" font-size="10" text-anchor="end" font-family="Liberation Sans, sans-serif" >0.3</text>
<text x="469.50" y="12.40" font-size="10" text-anchor="end" font-family="Liberation Sans, sans-serif" >0.4</text>
<text x="574.70" y="197.50" font-size="12.5" text-anchor="middle" font-family="Liberation Sans, sans-serif" >Voltage / V</text>
<text transform="translate(447.6,89.2) rotate(-90)" font-size="12" text-anchor="middle" font-family="Liberation Sans, sans-serif">Current / nA</text>
<polyline fill="none" stroke="#000" stroke-width="1.8" points="474.60,135.10 544.67,99.59 559.68,94.54 574.70,85.06 584.71,80.42 614.74,65.29 674.80,34.02"/>
<polyline fill="none" stroke="#ff1a1a" stroke-width="1.8" points="474.60,146.79 475.60,148.12 476.60,145.55 477.60,145.45 478.60,144.47 479.61,144.34 480.61,143.25 481.61,142.32 482.61,143.28 483.61,139.64 484.61,141.66 485.61,140.83 486.61,137.42 487.61,136.66 488.61,138.46 489.62,135.90 490.62,135.13 491.62,133.22 492.62,132.36 493.62,133.72 494.62,130.86 495.62,132.04 496.62,129.79 497.62,131.11 498.62,129.43 499.62,130.23 500.63,128.99 501.63,125.14 502.63,128.35 503.63,126.35 504.63,124.14 505.63,126.01 506.63,124.83 507.63,124.59 508.63,125.50 509.63,124.42 510.64,120.70 511.64,122.52 512.64,122.38 513.64,119.40 514.64,120.78 515.64,120.79 516.64,116.99 517.64,118.24 518.64,119.34 519.64,116.14 520.65,117.23 521.65,115.41 522.65,113.93 523.65,116.44 524.65,113.38 525.65,114.46 526.65,114.23 527.65,112.40 528.65,112.55 529.65,112.19 530.66,113.22 531.66,108.89 532.66,109.40 533.66,109.50 534.66,106.35 535.66,109.25 536.66,107.27 537.66,105.59 538.66,106.50 539.66,106.35 540.67,102.91 541.67,103.39 542.67,104.50 543.67,101.77 544.67,104.81 545.67,102.04 546.67,100.34 547.67,100.10 548.67,100.27 549.67,100.33 550.68,100.97 551.68,99.50 552.68,99.95 553.68,99.36 554.68,99.99 555.68,98.27 556.68,99.49 557.68,96.47 558.68,96.90 559.68,97.48 560.69,95.89 561.69,94.01 562.69,94.65 563.69,93.39 564.69,91.98 565.69,91.26 566.69,90.53 567.69,89.22 568.69,89.69 569.69,88.80 570.70,87.65 571.70,86.78 572.70,85.96 573.70,85.73 574.70,85.45 575.70,84.77 576.70,83.66 577.70,83.22 578.70,82.48 579.71,81.77 580.71,81.95 581.71,80.83 582.71,79.52 583.71,78.61 584.71,76.98 585.71,75.66 586.71,75.20 587.71,73.63 588.71,70.81 589.71,73.37 590.72,69.65 591.72,67.99 592.72,68.45 593.72,68.08 594.72,67.46 595.72,68.24 596.72,68.67 597.72,64.64 598.72,67.53 599.73,66.86 600.73,64.37 601.73,65.47 602.73,64.30 603.73,63.36 604.73,64.48 605.73,63.41 606.73,61.61 607.73,61.59 608.73,62.29 609.74,57.23 610.74,59.11 611.74,60.27 612.74,57.92 613.74,58.50 614.74,57.92 615.74,56.81 616.74,55.11 617.74,54.06 618.74,53.99 619.75,54.86 620.75,55.78 621.75,53.74 622.75,53.80 623.75,53.56 624.75,49.53 625.75,52.87 626.75,52.83 627.75,47.46 628.75,49.91 629.75,50.76 630.76,47.32 631.76,50.11 632.76,47.75 633.76,44.12 634.76,45.45 635.76,45.52 636.76,45.10 637.76,45.63 638.76,45.82 639.76,41.63 640.77,43.41 641.77,41.97 642.77,41.61 643.77,42.91 644.77,40.23 645.77,37.61 646.77,39.00 647.77,38.63 648.77,36.59 649.77,37.79 650.78,39.11 651.78,36.07 652.78,37.57 653.78,38.22 654.78,36.23 655.78,36.23 656.78,35.77 657.78,32.20 658.78,32.16 659.78,33.47 660.79,29.70 661.79,30.43 662.79,30.01 663.79,30.17 664.79,31.60 665.79,31.04 666.79,29.16 667.79,30.05 668.79,27.99 669.79,24.99 670.80,26.12 671.80,26.90 672.80,23.42 673.80,22.08 674.80,22.41"/>
<rect x="474.6" y="8.8" width="200.19999999999993" height="161.39999999999998" fill="none" stroke="#111" stroke-width="1.3"/>
<rect x="486.4" y="26.4" width="76.5" height="22.1" fill="#fff" stroke="#ccc" stroke-width="0.8"/>
<line x1="487.30" y1="32.40" x2="507.40" y2="32.40" stroke="#ff1a1a" stroke-width="1.8" />
<line x1="487.30" y1="42.60" x2="507.40" y2="42.60" stroke="#000" stroke-width="1.8" />
<text x="509.60" y="35.30" font-size="8.3" text-anchor="start" font-family="Liberation Sans, sans-serif" >Fresh sample</text>
<text x="509.60" y="45.50" font-size="8.3" text-anchor="start" font-family="Liberation Sans, sans-serif" >After one year</text>
<text x="419.50" y="25.70" font-size="24" text-anchor="start" font-family="Liberation Sans, sans-serif" >b</text>
<line x1="53.70" y1="377.60" x2="53.70" y2="379.10" stroke="#000" stroke-width="1.2" />
<line x1="71.25" y1="377.60" x2="71.25" y2="380.20" stroke="#000" stroke-width="1.2" />
<line x1="88.80" y1="377.60" x2="88.80" y2="379.10" stroke="#000" stroke-width="1.2" />
<line x1="106.35" y1="377.60" x2="106.35" y2="380.20" stroke="#000" stroke-width="1.2" />
<line x1="123.90" y1="377.60" x2="123.90" y2="379.10" stroke="#000" stroke-width="1.2" />
<line x1="141.45" y1="377.60" x2="141.45" y2="380.20" stroke="#000" stroke-width="1.2" />
<line x1="159.00" y1="377.60" x2="159.00" y2="379.10" stroke="#000" stroke-width="1.2" />
<line x1="176.55" y1="377.60" x2="176.55" y2="380.20" stroke="#000" stroke-width="1.2" />
<line x1="194.10" y1="377.60" x2="194.10" y2="379.10" stroke="#000" stroke-width="1.2" />
<line x1="211.65" y1="377.60" x2="211.65" y2="380.20" stroke="#000" stroke-width="1.2" />
<line x1="229.20" y1="377.60" x2="229.20" y2="379.10" stroke="#000" stroke-width="1.2" />
<line x1="246.75" y1="377.60" x2="246.75" y2="380.20" stroke="#000" stroke-width="1.2" />
<line x1="264.30" y1="377.60" x2="264.30" y2="379.10" stroke="#000" stroke-width="1.2" />
<text x="71.25" y="392.80" font-size="11.8" text-anchor="middle" font-family="Liberation Sans, sans-serif" >0</text>
<text x="106.35" y="392.80" font-size="11.8" text-anchor="middle" font-family="Liberation Sans, sans-serif" >500</text>
<text x="141.45" y="392.80" font-size="11.8" text-anchor="middle" font-family="Liberation Sans, sans-serif" >1000</text>
<text x="176.55" y="392.80" font-size="11.8" text-anchor="middle" font-family="Liberation Sans, sans-serif" >1500</text>
<text x="211.65" y="392.80" font-size="11.8" text-anchor="middle" font-family="Liberation Sans, sans-serif" >2000</text>
<text x="246.75" y="392.80" font-size="11.8" text-anchor="middle" font-family="Liberation Sans, sans-serif" >2500</text>
<line x1="52.20" y1="377.60" x2="53.70" y2="377.60" stroke="#000" stroke-width="1.2" />
<line x1="51.10" y1="363.52" x2="53.70" y2="363.52" stroke="#000" stroke-width="1.2" />
<line x1="52.20" y1="349.43" x2="53.70" y2="349.43" stroke="#000" stroke-width="1.2" />
<line x1="51.10" y1="335.35" x2="53.70" y2="335.35" stroke="#000" stroke-width="1.2" />
<line x1="52.20" y1="321.27" x2="53.70" y2="321.27" stroke="#000" stroke-width="1.2" />
<line x1="51.10" y1="307.18" x2="53.70" y2="307.18" stroke="#000" stroke-width="1.2" />
<line x1="52.20" y1="293.10" x2="53.70" y2="293.10" stroke="#000" stroke-width="1.2" />
<line x1="51.10" y1="279.02" x2="53.70" y2="279.02" stroke="#000" stroke-width="1.2" />
<line x1="52.20" y1="264.93" x2="53.70" y2="264.93" stroke="#000" stroke-width="1.2" />
<line x1="51.10" y1="250.85" x2="53.70" y2="250.85" stroke="#000" stroke-width="1.2" />
<line x1="52.20" y1="236.77" x2="53.70" y2="236.77" stroke="#000" stroke-width="1.2" />
<line x1="51.10" y1="222.68" x2="53.70" y2="222.68" stroke="#000" stroke-width="1.2" />
<text x="47.90" y="367.52" font-size="11.9" text-anchor="end" font-family="Liberation Sans, sans-serif" >0</text>
<text x="47.90" y="339.35" font-size="11.9" text-anchor="end" font-family="Liberation Sans, sans-serif" >200</text>
<text x="47.90" y="311.18" font-size="11.9" text-anchor="end" font-family="Liberation Sans, sans-serif" >400</text>
<text x="47.90" y="283.02" font-size="11.9" text-anchor="end" font-family="Liberation Sans, sans-serif" >600</text>
<text x="47.90" y="254.85" font-size="11.9" text-anchor="end" font-family="Liberation Sans, sans-serif" >800</text>
<text x="47.90" y="226.68" font-size="11.9" text-anchor="end" font-family="Liberation Sans, sans-serif" >1000</text>
<text x="159.00" y="410.40" font-size="16" text-anchor="middle" font-family="Liberation Sans, sans-serif" >Time / ms</text>
<text transform="translate(20.3,292.5) rotate(-90)" font-size="16" text-anchor="middle" font-family="Liberation Sans, sans-serif">Relative Current</text>
<polyline fill="none" stroke="#52baf0" stroke-width="1.1" points="71.25,363.34 71.74,363.05 72.23,363.20 72.72,363.23 73.22,363.54 73.71,363.88 74.20,363.19 74.69,363.71 75.18,363.18 75.67,362.99 76.16,363.63 76.66,363.63 77.15,363.01 77.64,363.26 78.13,363.89 78.62,363.94 79.11,363.91 79.60,363.06 80.10,363.17 80.59,363.92 81.08,363.15 81.57,335.35 82.06,307.18 82.55,270.57 83.04,238.18 83.53,218.35 84.45,221.27 85.36,224.03 86.27,222.24 87.19,226.01 88.10,227.06 89.01,218.44 89.92,221.33 90.84,222.44 91.75,218.77 92.66,223.28 93.57,219.33 94.49,219.74 95.40,225.29 96.31,250.85 96.80,276.20 97.29,305.77 97.79,336.76 98.28,363.80 98.77,363.75 99.26,363.81 99.75,363.42 100.24,363.79 100.73,363.61 101.23,363.93 101.72,363.05 102.21,363.68 102.70,363.56 103.19,363.42 103.68,363.06 104.17,363.61 104.67,363.05 105.16,363.51 105.65,363.48 106.14,363.49 106.63,364.06 107.12,363.58 107.61,363.87 108.11,339.58 108.60,305.77 109.09,280.43 109.58,249.44 110.07,227.15 110.98,219.99 111.90,225.64 112.81,222.92 113.72,220.65 114.63,222.17 115.55,224.25 116.46,222.52 117.37,222.18 118.28,220.12 119.20,226.23 120.11,222.14 121.02,224.95 121.93,224.69 122.85,245.22 123.34,280.43 123.83,308.59 124.32,333.94 124.81,363.21 125.30,363.51 125.80,363.45 126.29,363.22 126.78,363.05 127.27,363.58 127.76,363.39 128.25,363.51 128.74,363.50 129.24,363.30 129.73,363.57 130.22,363.48 130.71,363.54 131.20,363.02 131.69,363.29 132.18,363.09 132.68,363.02 133.17,363.79 133.66,363.45 134.15,363.02 134.64,333.94 135.13,311.41 135.62,279.02 136.11,248.03 136.61,219.62 137.52,225.95 138.43,226.09 139.34,223.21 140.26,226.54 141.17,225.02 142.08,226.53 142.99,221.16 143.91,220.12 144.82,219.10 145.73,225.80 146.64,220.74 147.56,221.24 148.47,225.90 149.38,250.85 149.87,276.20 150.37,307.18 150.86,336.76 151.35,363.09 151.84,362.99 152.33,363.83 152.82,363.01 153.31,363.63 153.81,363.53 154.30,362.96 154.79,363.14 155.28,363.90 155.77,363.59 156.26,363.50 156.75,363.70 157.25,363.86 157.74,363.72 158.23,363.27 158.72,364.06 159.21,363.46 159.70,363.58 160.19,364.06 160.68,363.71 161.18,336.76 161.67,305.77 162.16,280.43 162.65,246.62 163.14,221.57 164.05,222.57 164.97,226.61 165.88,218.31 166.79,220.08 167.70,218.43 168.62,226.25 169.53,224.80 170.44,226.83 171.36,220.17 172.27,224.75 173.18,226.02 174.09,223.38 175.01,218.98 175.92,250.85 176.41,279.02 176.90,307.18 177.39,336.76 177.88,363.16 178.38,363.79 178.87,363.91 179.36,363.04 179.85,363.44 180.34,363.29 180.83,363.98 181.32,364.02 181.81,363.30 182.31,363.60 182.80,364.00 183.29,363.02 183.78,363.37 184.27,363.18 184.76,363.99 185.25,363.12 185.75,364.00 186.24,363.11 186.73,363.57 187.22,363.70 187.71,335.35 188.20,307.18 188.69,280.43 189.19,250.85 189.68,222.21 190.59,218.84 191.50,224.78 192.42,226.03 193.33,222.44 194.24,225.04 195.15,226.20 196.07,225.73 196.98,226.74 197.89,225.37 198.80,224.38 199.72,224.44 200.63,220.34 201.54,224.58 202.45,250.85 202.95,276.20 203.44,307.18 203.93,336.76 204.42,363.52 204.91,363.88 205.40,363.69 205.89,364.06 206.38,363.80 206.88,364.06 207.37,363.25 207.86,363.46 208.35,363.87 208.84,363.55 209.33,363.03 209.82,363.96 210.32,363.16 210.81,363.59 211.30,363.52 211.79,363.14 212.28,363.64 212.77,363.51 213.26,363.31 213.76,362.97 214.25,335.35 214.74,307.18 215.23,280.43 215.72,250.85 216.21,224.10 217.13,219.69 218.04,220.82 218.95,221.46 219.86,223.54 220.78,224.06 221.69,226.70 222.60,226.02 223.51,226.55 224.43,220.51 225.34,224.89 226.25,225.72 227.16,226.43 228.08,219.61 228.99,248.03 229.48,279.02 229.97,307.18 230.46,335.35 230.96,363.10 231.45,363.32 231.94,363.76 232.43,363.81 232.92,363.75 233.41,363.56 233.90,363.90 234.39,363.58 234.89,363.78 235.38,363.00 235.87,362.98 236.36,363.46 236.85,363.80 237.34,362.99 237.83,363.73 238.33,363.68 238.82,364.08 239.31,363.65 239.80,363.55 240.29,363.51 240.78,363.85"/>
<g fill="#52baf0" stroke="#4ab2ee" stroke-width="0.5"><circle cx="71.25" cy="363.34" r="1.9"/><circle cx="71.74" cy="363.05" r="1.9"/><circle cx="72.23" cy="363.20" r="1.9"/><circle cx="72.72" cy="363.23" r="1.9"/><circle cx="73.22" cy="363.54" r="1.9"/><circle cx="73.71" cy="363.88" r="1.9"/><circle cx="74.20" cy="363.19" r="1.9"/><circle cx="74.69" cy="363.71" r="1.9"/><circle cx="75.18" cy="363.18" r="1.9"/><circle cx="75.67" cy="362.99" r="1.9"/><circle cx="76.16" cy="363.63" r="1.9"/><circle cx="76.66" cy="363.63" r="1.9"/><circle cx="77.15" cy="363.01" r="1.9"/><circle cx="77.64" cy="363.26" r="1.9"/><circle cx="78.13" cy="363.89" r="1.9"/><circle cx="78.62" cy="363.94" r="1.9"/><circle cx="79.11" cy="363.91" r="1.9"/><circle cx="79.60" cy="363.06" r="1.9"/><circle cx="80.10" cy="363.17" r="1.9"/><circle cx="80.59" cy="363.92" r="1.9"/><circle cx="81.08" cy="363.15" r="1.9"/><circle cx="81.57" cy="335.35" r="1.9"/><circle cx="82.06" cy="307.18" r="1.9"/><circle cx="82.55" cy="270.57" r="1.9"/><circle cx="83.04" cy="238.18" r="1.9"/><circle cx="83.53" cy="218.35" r="1.9"/><circle cx="84.45" cy="221.27" r="1.9"/><circle cx="85.36" cy="224.03" r="1.9"/><circle cx="86.27" cy="222.24" r="1.9"/><circle cx="87.19" cy="226.01" r="1.9"/><circle cx="88.10" cy="227.06" r="1.9"/><circle cx="89.01" cy="218.44" r="1.9"/><circle cx="89.92" cy="221.33" r="1.9"/><circle cx="90.84" cy="222.44" r="1.9"/><circle cx="91.75" cy="218.77" r="1.9"/><circle cx="92.66" cy="223.28" r="1.9"/><circle cx="93.57" cy="219.33" r="1.9"/><circle cx="94.49" cy="219.74" r="1.9"/><circle cx="95.40" cy="225.29" r="1.9"/><circle cx="96.31" cy="250.85" r="1.9"/><circle cx="96.80" cy="276.20" r="1.9"/><circle cx="97.29" cy="305.77" r="1.9"/><circle cx="97.79" cy="336.76" r="1.9"/><circle cx="98.28" cy="363.80" r="1.9"/><circle cx="98.77" cy="363.75" r="1.9"/><circle cx="99.26" cy="363.81" r="1.9"/><circle cx="99.75" cy="363.42" r="1.9"/><circle cx="100.24" cy="363.79" r="1.9"/><circle cx="100.73" cy="363.61" r="1.9"/><circle cx="101.23" cy="363.93" r="1.9"/><circle cx="101.72" cy="363.05" r="1.9"/><circle cx="102.21" cy="363.68" r="1.9"/><circle cx="102.70" cy="363.56" r="1.9"/><circle cx="103.19" cy="363.42" r="1.9"/><circle cx="103.68" cy="363.06" r="1.9"/><circle cx="104.17" cy="363.61" r="1.9"/><circle cx="104.67" cy="363.05" r="1.9"/><circle cx="105.16" cy="363.51" r="1.9"/><circle cx="105.65" cy="363.48" r="1.9"/><circle cx="106.14" cy="363.49" r="1.9"/><circle cx="106.63" cy="364.06" r="1.9"/><circle cx="107.12" cy="363.58" r="1.9"/><circle cx="107.61" cy="363.87" r="1.9"/><circle cx="108.11" cy="339.58" r="1.9"/><circle cx="108.60" cy="305.77" r="1.9"/><circle cx="109.09" cy="280.43" r="1.9"/><circle cx="109.58" cy="249.44" r="1.9"/><circle cx="110.07" cy="227.15" r="1.9"/><circle cx="110.98" cy="219.99" r="1.9"/><circle cx="111.90" cy="225.64" r="1.9"/><circle cx="112.81" cy="222.92" r="1.9"/><circle cx="113.72" cy="220.65" r="1.9"/><circle cx="114.63" cy="222.17" r="1.9"/><circle cx="115.55" cy="224.25" r="1.9"/><circle cx="116.46" cy="222.52" r="1.9"/><circle cx="117.37" cy="222.18" r="1.9"/><circle cx="118.28" cy="220.12" r="1.9"/><circle cx="119.20" cy="226.23" r="1.9"/><circle cx="120.11" cy="222.14" r="1.9"/><circle cx="121.02" cy="224.95" r="1.9"/><circle cx="121.93" cy="224.69" r="1.9"/><circle cx="122.85" cy="245.22" r="1.9"/><circle cx="123.34" cy="280.43" r="1.9"/><circle cx="123.83" cy="308.59" r="1.9"/><circle cx="124.32" cy="333.94" r="1.9"/><circle cx="124.81" cy="363.21" r="1.9"/><circle cx="125.30" cy="363.51" r="1.9"/><circle cx="125.80" cy="363.45" r="1.9"/><circle cx="126.29" cy="363.22" r="1.9"/><circle cx="126.78" cy="363.05" r="1.9"/><circle cx="127.27" cy="363.58" r="1.9"/><circle cx="127.76" cy="363.39" r="1.9"/><circle cx="128.25" cy="363.51" r="1.9"/><circle cx="128.74" cy="363.50" r="1.9"/><circle cx="129.24" cy="363.30" r="1.9"/><circle cx="129.73" cy="363.57" r="1.9"/><circle cx="130.22" cy="363.48" r="1.9"/><circle cx="130.71" cy="363.54" r="1.9"/><circle cx="131.20" cy="363.02" r="1.9"/><circle cx="131.69" cy="363.29" r="1.9"/><circle cx="132.18" cy="363.09" r="1.9"/><circle cx="132.68" cy="363.02" r="1.9"/><circle cx="133.17" cy="363.79" r="1.9"/><circle cx="133.66" cy="363.45" r="1.9"/><circle cx="134.15" cy="363.02" r="1.9"/><circle cx="134.64" cy="333.94" r="1.9"/><circle cx="135.13" cy="311.41" r="1.9"/><circle cx="135.62" cy="279.02" r="1.9"/><circle cx="136.11" cy="248.03" r="1.9"/><circle cx="136.61" cy="219.62" r="1.9"/><circle cx="137.52" cy="225.95" r="1.9"/><circle cx="138.43" cy="226.09" r="1.9"/><circle cx="139.34" cy="223.21" r="1.9"/><circle cx="140.26" cy="226.54" r="1.9"/><circle cx="141.17" cy="225.02" r="1.9"/><circle cx="142.08" cy="226.53" r="1.9"/><circle cx="142.99" cy="221.16" r="1.9"/><circle cx="143.91" cy="220.12" r="1.9"/><circle cx="144.82" cy="219.10" r="1.9"/><circle cx="145.73" cy="225.80" r="1.9"/><circle cx="146.64" cy="220.74" r="1.9"/><circle cx="147.56" cy="221.24" r="1.9"/><circle cx="148.47" cy="225.90" r="1.9"/><circle cx="149.38" cy="250.85" r="1.9"/><circle cx="149.87" cy="276.20" r="1.9"/><circle cx="150.37" cy="307.18" r="1.9"/><circle cx="150.86" cy="336.76" r="1.9"/><circle cx="151.35" cy="363.09" r="1.9"/><circle cx="151.84" cy="362.99" r="1.9"/><circle cx="152.33" cy="363.83" r="1.9"/><circle cx="152.82" cy="363.01" r="1.9"/><circle cx="153.31" cy="363.63" r="1.9"/><circle cx="153.81" cy="363.53" r="1.9"/><circle cx="154.30" cy="362.96" r="1.9"/><circle cx="154.79" cy="363.14" r="1.9"/><circle cx="155.28" cy="363.90" r="1.9"/><circle cx="155.77" cy="363.59" r="1.9"/><circle cx="156.26" cy="363.50" r="1.9"/><circle cx="156.75" cy="363.70" r="1.9"/><circle cx="157.25" cy="363.86" r="1.9"/><circle cx="157.74" cy="363.72" r="1.9"/><circle cx="158.23" cy="363.27" r="1.9"/><circle cx="158.72" cy="364.06" r="1.9"/><circle cx="159.21" cy="363.46" r="1.9"/><circle cx="159.70" cy="363.58" r="1.9"/><circle cx="160.19" cy="364.06" r="1.9"/><circle cx="160.68" cy="363.71" r="1.9"/><circle cx="161.18" cy="336.76" r="1.9"/><circle cx="161.67" cy="305.77" r="1.9"/><circle cx="162.16" cy="280.43" r="1.9"/><circle cx="162.65" cy="246.62" r="1.9"/><circle cx="163.14" cy="221.57" r="1.9"/><circle cx="164.05" cy="222.57" r="1.9"/><circle cx="164.97" cy="226.61" r="1.9"/><circle cx="165.88" cy="218.31" r="1.9"/><circle cx="166.79" cy="220.08" r="1.9"/><circle cx="167.70" cy="218.43" r="1.9"/><circle cx="168.62" cy="226.25" r="1.9"/><circle cx="169.53" cy="224.80" r="1.9"/><circle cx="170.44" cy="226.83" r="1.9"/><circle cx="171.36" cy="220.17" r="1.9"/><circle cx="172.27" cy="224.75" r="1.9"/><circle cx="173.18" cy="226.02" r="1.9"/><circle cx="174.09" cy="223.38" r="1.9"/><circle cx="175.01" cy="218.98" r="1.9"/><circle cx="175.92" cy="250.85" r="1.9"/><circle cx="176.41" cy="279.02" r="1.9"/><circle cx="176.90" cy="307.18" r="1.9"/><circle cx="177.39" cy="336.76" r="1.9"/><circle cx="177.88" cy="363.16" r="1.9"/><circle cx="178.38" cy="363.79" r="1.9"/><circle cx="178.87" cy="363.91" r="1.9"/><circle cx="179.36" cy="363.04" r="1.9"/><circle cx="179.85" cy="363.44" r="1.9"/><circle cx="180.34" cy="363.29" r="1.9"/><circle cx="180.83" cy="363.98" r="1.9"/><circle cx="181.32" cy="364.02" r="1.9"/><circle cx="181.81" cy="363.30" r="1.9"/><circle cx="182.31" cy="363.60" r="1.9"/><circle cx="182.80" cy="364.00" r="1.9"/><circle cx="183.29" cy="363.02" r="1.9"/><circle cx="183.78" cy="363.37" r="1.9"/><circle cx="184.27" cy="363.18" r="1.9"/><circle cx="184.76" cy="363.99" r="1.9"/><circle cx="185.25" cy="363.12" r="1.9"/><circle cx="185.75" cy="364.00" r="1.9"/><circle cx="186.24" cy="363.11" r="1.9"/><circle cx="186.73" cy="363.57" r="1.9"/><circle cx="187.22" cy="363.70" r="1.9"/><circle cx="187.71" cy="335.35" r="1.9"/><circle cx="188.20" cy="307.18" r="1.9"/><circle cx="188.69" cy="280.43" r="1.9"/><circle cx="189.19" cy="250.85" r="1.9"/><circle cx="189.68" cy="222.21" r="1.9"/><circle cx="190.59" cy="218.84" r="1.9"/><circle cx="191.50" cy="224.78" r="1.9"/><circle cx="192.42" cy="226.03" r="1.9"/><circle cx="193.33" cy="222.44" r="1.9"/><circle cx="194.24" cy="225.04" r="1.9"/><circle cx="195.15" cy="226.20" r="1.9"/><circle cx="196.07" cy="225.73" r="1.9"/><circle cx="196.98" cy="226.74" r="1.9"/><circle cx="197.89" cy="225.37" r="1.9"/><circle cx="198.80" cy="224.38" r="1.9"/><circle cx="199.72" cy="224.44" r="1.9"/><circle cx="200.63" cy="220.34" r="1.9"/><circle cx="201.54" cy="224.58" r="1.9"/><circle cx="202.45" cy="250.85" r="1.9"/><circle cx="202.95" cy="276.20" r="1.9"/><circle cx="203.44" cy="307.18" r="1.9"/><circle cx="203.93" cy="336.76" r="1.9"/><circle cx="204.42" cy="363.52" r="1.9"/><circle cx="204.91" cy="363.88" r="1.9"/><circle cx="205.40" cy="363.69" r="1.9"/><circle cx="205.89" cy="364.06" r="1.9"/><circle cx="206.38" cy="363.80" r="1.9"/><circle cx="206.88" cy="364.06" r="1.9"/><circle cx="207.37" cy="363.25" r="1.9"/><circle cx="207.86" cy="363.46" r="1.9"/><circle cx="208.35" cy="363.87" r="1.9"/><circle cx="208.84" cy="363.55" r="1.9"/><circle cx="209.33" cy="363.03" r="1.9"/><circle cx="209.82" cy="363.96" r="1.9"/><circle cx="210.32" cy="363.16" r="1.9"/><circle cx="210.81" cy="363.59" r="1.9"/><circle cx="211.30" cy="363.52" r="1.9"/><circle cx="211.79" cy="363.14" r="1.9"/><circle cx="212.28" cy="363.64" r="1.9"/><circle cx="212.77" cy="363.51" r="1.9"/><circle cx="213.26" cy="363.31" r="1.9"/><circle cx="213.76" cy="362.97" r="1.9"/><circle cx="214.25" cy="335.35" r="1.9"/><circle cx="214.74" cy="307.18" r="1.9"/><circle cx="215.23" cy="280.43" r="1.9"/><circle cx="215.72" cy="250.85" r="1.9"/><circle cx="216.21" cy="224.10" r="1.9"/><circle cx="217.13" cy="219.69" r="1.9"/><circle cx="218.04" cy="220.82" r="1.9"/><circle cx="218.95" cy="221.46" r="1.9"/><circle cx="219.86" cy="223.54" r="1.9"/><circle cx="220.78" cy="224.06" r="1.9"/><circle cx="221.69" cy="226.70" r="1.9"/><circle cx="222.60" cy="226.02" r="1.9"/><circle cx="223.51" cy="226.55" r="1.9"/><circle cx="224.43" cy="220.51" r="1.9"/><circle cx="225.34" cy="224.89" r="1.9"/><circle cx="226.25" cy="225.72" r="1.9"/><circle cx="227.16" cy="226.43" r="1.9"/><circle cx="228.08" cy="219.61" r="1.9"/><circle cx="228.99" cy="248.03" r="1.9"/><circle cx="229.48" cy="279.02" r="1.9"/><circle cx="229.97" cy="307.18" r="1.9"/><circle cx="230.46" cy="335.35" r="1.9"/><circle cx="230.96" cy="363.10" r="1.9"/><circle cx="231.45" cy="363.32" r="1.9"/><circle cx="231.94" cy="363.76" r="1.9"/><circle cx="232.43" cy="363.81" r="1.9"/><circle cx="232.92" cy="363.75" r="1.9"/><circle cx="233.41" cy="363.56" r="1.9"/><circle cx="233.90" cy="363.90" r="1.9"/><circle cx="234.39" cy="363.58" r="1.9"/><circle cx="234.89" cy="363.78" r="1.9"/><circle cx="235.38" cy="363.00" r="1.9"/><circle cx="235.87" cy="362.98" r="1.9"/><circle cx="236.36" cy="363.46" r="1.9"/><circle cx="236.85" cy="363.80" r="1.9"/><circle cx="237.34" cy="362.99" r="1.9"/><circle cx="237.83" cy="363.73" r="1.9"/><circle cx="238.33" cy="363.68" r="1.9"/><circle cx="238.82" cy="364.08" r="1.9"/><circle cx="239.31" cy="363.65" r="1.9"/><circle cx="239.80" cy="363.55" r="1.9"/><circle cx="240.29" cy="363.51" r="1.9"/><circle cx="240.78" cy="363.85" r="1.9"/></g>
<g fill="#d8f0ff" opacity="0.55"><circle cx="70.85" cy="362.84" r="0.55"/><circle cx="71.34" cy="362.55" r="0.55"/><circle cx="71.83" cy="362.70" r="0.55"/><circle cx="72.32" cy="362.73" r="0.55"/><circle cx="72.82" cy="363.04" r="0.55"/><circle cx="73.31" cy="363.38" r="0.55"/><circle cx="73.80" cy="362.69" r="0.55"/><circle cx="74.29" cy="363.21" r="0.55"/><circle cx="74.78" cy="362.68" r="0.55"/><circle cx="75.27" cy="362.49" r="0.55"/><circle cx="75.76" cy="363.13" r="0.55"/><circle cx="76.26" cy="363.13" r="0.55"/><circle cx="76.75" cy="362.51" r="0.55"/><circle cx="77.24" cy="362.76" r="0.55"/><circle cx="77.73" cy="363.39" r="0.55"/><circle cx="78.22" cy="363.44" r="0.55"/><circle cx="78.71" cy="363.41" r="0.55"/><circle cx="79.20" cy="362.56" r="0.55"/><circle cx="79.70" cy="362.67" r="0.55"/><circle cx="80.19" cy="363.42" r="0.55"/><circle cx="80.68" cy="362.65" r="0.55"/><circle cx="81.17" cy="334.85" r="0.55"/><circle cx="81.66" cy="306.68" r="0.55"/><circle cx="82.15" cy="270.07" r="0.55"/><circle cx="82.64" cy="237.68" r="0.55"/><circle cx="83.13" cy="217.85" r="0.55"/><circle cx="84.05" cy="220.77" r="0.55"/><circle cx="84.96" cy="223.53" r="0.55"/><circle cx="85.87" cy="221.74" r="0.55"/><circle cx="86.79" cy="225.51" r="0.55"/><circle cx="87.70" cy="226.56" r="0.55"/><circle cx="88.61" cy="217.94" r="0.55"/><circle cx="89.52" cy="220.83" r="0.55"/><circle cx="90.44" cy="221.94" r="0.55"/><circle cx="91.35" cy="218.27" r="0.55"/><circle cx="92.26" cy="222.78" r="0.55"/><circle cx="93.17" cy="218.83" r="0.55"/><circle cx="94.09" cy="219.24" r="0.55"/><circle cx="95.00" cy="224.79" r="0.55"/><circle cx="95.91" cy="250.35" r="0.55"/><circle cx="96.40" cy="275.70" r="0.55"/><circle cx="96.89" cy="305.27" r="0.55"/><circle cx="97.39" cy="336.26" r="0.55"/><circle cx="97.88" cy="363.30" r="0.55"/><circle cx="98.37" cy="363.25" r="0.55"/><circle cx="98.86" cy="363.31" r="0.55"/><circle cx="99.35" cy="362.92" r="0.55"/><circle cx="99.84" cy="363.29" r="0.55"/><circle cx="100.33" cy="363.11" r="0.55"/><circle cx="100.83" cy="363.43" r="0.55"/><circle cx="101.32" cy="362.55" r="0.55"/><circle cx="101.81" cy="363.18" r="0.55"/><circle cx="102.30" cy="363.06" r="0.55"/><circle cx="102.79" cy="362.92" r="0.55"/><circle cx="103.28" cy="362.56" r="0.55"/><circle cx="103.77" cy="363.11" r="0.55"/><circle cx="104.27" cy="362.55" r="0.55"/><circle cx="104.76" cy="363.01" r="0.55"/><circle cx="105.25" cy="362.98" r="0.55"/><circle cx="105.74" cy="362.99" r="0.55"/><circle cx="106.23" cy="363.56" r="0.55"/><circle cx="106.72" cy="363.08" r="0.55"/><circle cx="107.21" cy="363.37" r="0.55"/><circle cx="107.71" cy="339.08" r="0.55"/><circle cx="108.20" cy="305.27" r="0.55"/><circle cx="108.69" cy="279.93" r="0.55"/><circle cx="109.18" cy="248.94" r="0.55"/><circle cx="109.67" cy="226.65" r="0.55"/><circle cx="110.58" cy="219.49" r="0.55"/><circle cx="111.50" cy="225.14" r="0.55"/><circle cx="112.41" cy="222.42" r="0.55"/><circle cx="113.32" cy="220.15" r="0.55"/><circle cx="114.23" cy="221.67" r="0.55"/><circle cx="115.15" cy="223.75" r="0.55"/><circle cx="116.06" cy="222.02" r="0.55"/><circle cx="116.97" cy="221.68" r="0.55"/><circle cx="117.88" cy="219.62" r="0.55"/><circle cx="118.80" cy="225.73" r="0.55"/><circle cx="119.71" cy="221.64" r="0.55"/><circle cx="120.62" cy="224.45" r="0.55"/><circle cx="121.53" cy="224.19" r="0.55"/><circle cx="122.45" cy="244.72" r="0.55"/><circle cx="122.94" cy="279.93" r="0.55"/><circle cx="123.43" cy="308.09" r="0.55"/><circle cx="123.92" cy="333.44" r="0.55"/><circle cx="124.41" cy="362.71" r="0.55"/><circle cx="124.90" cy="363.01" r="0.55"/><circle cx="125.40" cy="362.95" r="0.55"/><circle cx="125.89" cy="362.72" r="0.55"/><circle cx="126.38" cy="362.55" r="0.55"/><circle cx="126.87" cy="363.08" r="0.55"/><circle cx="127.36" cy="362.89" r="0.55"/><circle cx="127.85" cy="363.01" r="0.55"/><circle cx="128.34" cy="363.00" r="0.55"/><circle cx="128.84" cy="362.80" r="0.55"/><circle cx="129.33" cy="363.07" r="0.55"/><circle cx="129.82" cy="362.98" r="0.55"/><circle cx="130.31" cy="363.04" r="0.55"/><circle cx="130.80" cy="362.52" r="0.55"/><circle cx="131.29" cy="362.79" r="0.55"/><circle cx="131.78" cy="362.59" r="0.55"/><circle cx="132.28" cy="362.52" r="0.55"/><circle cx="132.77" cy="363.29" r="0.55"/><circle cx="133.26" cy="362.95" r="0.55"/><circle cx="133.75" cy="362.52" r="0.55"/><circle cx="134.24" cy="333.44" r="0.55"/><circle cx="134.73" cy="310.91" r="0.55"/><circle cx="135.22" cy="278.52" r="0.55"/><circle cx="135.71" cy="247.53" r="0.55"/><circle cx="136.21" cy="219.12" r="0.55"/><circle cx="137.12" cy="225.45" r="0.55"/><circle cx="138.03" cy="225.59" r="0.55"/><circle cx="138.94" cy="222.71" r="0.55"/><circle cx="139.86" cy="226.04" r="0.55"/><circle cx="140.77" cy="224.52" r="0.55"/><circle cx="141.68" cy="226.03" r="0.55"/><circle cx="142.59" cy="220.66" r="0.55"/><circle cx="143.51" cy="219.62" r="0.55"/><circle cx="144.42" cy="218.60" r="0.55"/><circle cx="145.33" cy="225.30" r="0.55"/><circle cx="146.24" cy="220.24" r="0.55"/><circle cx="147.16" cy="220.74" r="0.55"/><circle cx="148.07" cy="225.40" r="0.55"/><circle cx="148.98" cy="250.35" r="0.55"/><circle cx="149.47" cy="275.70" r="0.55"/><circle cx="149.97" cy="306.68" r="0.55"/><circle cx="150.46" cy="336.26" r="0.55"/><circle cx="150.95" cy="362.59" r="0.55"/><circle cx="151.44" cy="362.49" r="0.55"/><circle cx="151.93" cy="363.33" r="0.55"/><circle cx="152.42" cy="362.51" r="0.55"/><circle cx="152.91" cy="363.13" r="0.55"/><circle cx="153.41" cy="363.03" r="0.55"/><circle cx="153.90" cy="362.46" r="0.55"/><circle cx="154.39" cy="362.64" r="0.55"/><circle cx="154.88" cy="363.40" r="0.55"/><circle cx="155.37" cy="363.09" r="0.55"/><circle cx="155.86" cy="363.00" r="0.55"/><circle cx="156.35" cy="363.20" r="0.55"/><circle cx="156.84" cy="363.36" r="0.55"/><circle cx="157.34" cy="363.22" r="0.55"/><circle cx="157.83" cy="362.77" r="0.55"/><circle cx="158.32" cy="363.56" r="0.55"/><circle cx="158.81" cy="362.96" r="0.55"/><circle cx="159.30" cy="363.08" r="0.55"/><circle cx="159.79" cy="363.56" r="0.55"/><circle cx="160.28" cy="363.21" r="0.55"/><circle cx="160.78" cy="336.26" r="0.55"/><circle cx="161.27" cy="305.27" r="0.55"/><circle cx="161.76" cy="279.93" r="0.55"/><circle cx="162.25" cy="246.12" r="0.55"/><circle cx="162.74" cy="221.07" r="0.55"/><circle cx="163.65" cy="222.07" r="0.55"/><circle cx="164.57" cy="226.11" r="0.55"/><circle cx="165.48" cy="217.81" r="0.55"/><circle cx="166.39" cy="219.58" r="0.55"/><circle cx="167.30" cy="217.93" r="0.55"/><circle cx="168.22" cy="225.75" r="0.55"/><circle cx="169.13" cy="224.30" r="0.55"/><circle cx="170.04" cy="226.33" r="0.55"/><circle cx="170.96" cy="219.67" r="0.55"/><circle cx="171.87" cy="224.25" r="0.55"/><circle cx="172.78" cy="225.52" r="0.55"/><circle cx="173.69" cy="222.88" r="0.55"/><circle cx="174.61" cy="218.48" r="0.55"/><circle cx="175.52" cy="250.35" r="0.55"/><circle cx="176.01" cy="278.52" r="0.55"/><circle cx="176.50" cy="306.68" r="0.55"/><circle cx="176.99" cy="336.26" r="0.55"/><circle cx="177.48" cy="362.66" r="0.55"/><circle cx="177.98" cy="363.29" r="0.55"/><circle cx="178.47" cy="363.41" r="0.55"/><circle cx="178.96" cy="362.54" r="0.55"/><circle cx="179.45" cy="362.94" r="0.55"/><circle cx="179.94" cy="362.79" r="0.55"/><circle cx="180.43" cy="363.48" r="0.55"/><circle cx="180.92" cy="363.52" r="0.55"/><circle cx="181.41" cy="362.80" r="0.55"/><circle cx="181.91" cy="363.10" r="0.55"/><circle cx="182.40" cy="363.50" r="0.55"/><circle cx="182.89" cy="362.52" r="0.55"/><circle cx="183.38" cy="362.87" r="0.55"/><circle cx="183.87" cy="362.68" r="0.55"/><circle cx="184.36" cy="363.49" r="0.55"/><circle cx="184.85" cy="362.62" r="0.55"/><circle cx="185.35" cy="363.50" r="0.55"/><circle cx="185.84" cy="362.61" r="0.55"/><circle cx="186.33" cy="363.07" r="0.55"/><circle cx="186.82" cy="363.20" r="0.55"/><circle cx="187.31" cy="334.85" r="0.55"/><circle cx="187.80" cy="306.68" r="0.55"/><circle cx="188.29" cy="279.93" r="0.55"/><circle cx="188.79" cy="250.35" r="0.55"/><circle cx="189.28" cy="221.71" r="0.55"/><circle cx="190.19" cy="218.34" r="0.55"/><circle cx="191.10" cy="224.28" r="0.55"/><circle cx="192.02" cy="225.53" r="0.55"/><circle cx="192.93" cy="221.94" r="0.55"/><circle cx="193.84" cy="224.54" r="0.55"/><circle cx="194.75" cy="225.70" r="0.55"/><circle cx="195.67" cy="225.23" r="0.55"/><circle cx="196.58" cy="226.24" r="0.55"/><circle cx="197.49" cy="224.87" r="0.55"/><circle cx="198.40" cy="223.88" r="0.55"/><circle cx="199.32" cy="223.94" r="0.55"/><circle cx="200.23" cy="219.84" r="0.55"/><circle cx="201.14" cy="224.08" r="0.55"/><circle cx="202.05" cy="250.35" r="0.55"/><circle cx="202.55" cy="275.70" r="0.55"/><circle cx="203.04" cy="306.68" r="0.55"/><circle cx="203.53" cy="336.26" r="0.55"/><circle cx="204.02" cy="363.02" r="0.55"/><circle cx="204.51" cy="363.38" r="0.55"/><circle cx="205.00" cy="363.19" r="0.55"/><circle cx="205.49" cy="363.56" r="0.55"/><circle cx="205.98" cy="363.30" r="0.55"/><circle cx="206.48" cy="363.56" r="0.55"/><circle cx="206.97" cy="362.75" r="0.55"/><circle cx="207.46" cy="362.96" r="0.55"/><circle cx="207.95" cy="363.37" r="0.55"/><circle cx="208.44" cy="363.05" r="0.55"/><circle cx="208.93" cy="362.53" r="0.55"/><circle cx="209.42" cy="363.46" r="0.55"/><circle cx="209.92" cy="362.66" r="0.55"/><circle cx="210.41" cy="363.09" r="0.55"/><circle cx="210.90" cy="363.02" r="0.55"/><circle cx="211.39" cy="362.64" r="0.55"/><circle cx="211.88" cy="363.14" r="0.55"/><circle cx="212.37" cy="363.01" r="0.55"/><circle cx="212.86" cy="362.81" r="0.55"/><circle cx="213.36" cy="362.47" r="0.55"/><circle cx="213.85" cy="334.85" r="0.55"/><circle cx="214.34" cy="306.68" r="0.55"/><circle cx="214.83" cy="279.93" r="0.55"/><circle cx="215.32" cy="250.35" r="0.55"/><circle cx="215.81" cy="223.60" r="0.55"/><circle cx="216.73" cy="219.19" r="0.55"/><circle cx="217.64" cy="220.32" r="0.55"/><circle cx="218.55" cy="220.96" r="0.55"/><circle cx="219.46" cy="223.04" r="0.55"/><circle cx="220.38" cy="223.56" r="0.55"/><circle cx="221.29" cy="226.20" r="0.55"/><circle cx="222.20" cy="225.52" r="0.55"/><circle cx="223.11" cy="226.05" r="0.55"/><circle cx="224.03" cy="220.01" r="0.55"/><circle cx="224.94" cy="224.39" r="0.55"/><circle cx="225.85" cy="225.22" r="0.55"/><circle cx="226.76" cy="225.93" r="0.55"/><circle cx="227.68" cy="219.11" r="0.55"/><circle cx="228.59" cy="247.53" r="0.55"/><circle cx="229.08" cy="278.52" r="0.55"/><circle cx="229.57" cy="306.68" r="0.55"/><circle cx="230.06" cy="334.85" r="0.55"/><circle cx="230.56" cy="362.60" r="0.55"/><circle cx="231.05" cy="362.82" r="0.55"/><circle cx="231.54" cy="363.26" r="0.55"/><circle cx="232.03" cy="363.31" r="0.55"/><circle cx="232.52" cy="363.25" r="0.55"/><circle cx="233.01" cy="363.06" r="0.55"/><circle cx="233.50" cy="363.40" r="0.55"/><circle cx="233.99" cy="363.08" r="0.55"/><circle cx="234.49" cy="363.28" r="0.55"/><circle cx="234.98" cy="362.50" r="0.55"/><circle cx="235.47" cy="362.48" r="0.55"/><circle cx="235.96" cy="362.96" r="0.55"/><circle cx="236.45" cy="363.30" r="0.55"/><circle cx="236.94" cy="362.49" r="0.55"/><circle cx="237.43" cy="363.23" r="0.55"/><circle cx="237.93" cy="363.18" r="0.55"/><circle cx="238.42" cy="363.58" r="0.55"/><circle cx="238.91" cy="363.15" r="0.55"/><circle cx="239.40" cy="363.05" r="0.55"/><circle cx="239.89" cy="363.01" r="0.55"/><circle cx="240.38" cy="363.35" r="0.55"/></g>
<rect x="53.7" y="208.6" width="210.60000000000002" height="169.00000000000003" fill="none" stroke="#111" stroke-width="1.3"/>
<text x="5.90" y="213.40" font-size="24" text-anchor="start" font-family="Liberation Sans, sans-serif" >c</text>
<line x1="315.50" y1="381.00" x2="317.10" y2="381.00" stroke="#000" stroke-width="1.2" />
<line x1="314.40" y1="368.53" x2="317.10" y2="368.53" stroke="#000" stroke-width="1.2" />
<line x1="315.50" y1="356.06" x2="317.10" y2="356.06" stroke="#000" stroke-width="1.2" />
<line x1="314.40" y1="343.59" x2="317.10" y2="343.59" stroke="#000" stroke-width="1.2" />
<line x1="315.50" y1="331.11" x2="317.10" y2="331.11" stroke="#000" stroke-width="1.2" />
<line x1="314.40" y1="318.64" x2="317.10" y2="318.64" stroke="#000" stroke-width="1.2" />
<line x1="315.50" y1="306.17" x2="317.10" y2="306.17" stroke="#000" stroke-width="1.2" />
<line x1="314.40" y1="293.70" x2="317.10" y2="293.70" stroke="#000" stroke-width="1.2" />
<line x1="315.50" y1="281.23" x2="317.10" y2="281.23" stroke="#000" stroke-width="1.2" />
<line x1="314.40" y1="268.76" x2="317.10" y2="268.76" stroke="#000" stroke-width="1.2" />
<line x1="315.50" y1="256.29" x2="317.10" y2="256.29" stroke="#000" stroke-width="1.2" />
<line x1="314.40" y1="243.81" x2="317.10" y2="243.81" stroke="#000" stroke-width="1.2" />
<line x1="315.50" y1="231.34" x2="317.10" y2="231.34" stroke="#000" stroke-width="1.2" />
<line x1="314.40" y1="218.87" x2="317.10" y2="218.87" stroke="#000" stroke-width="1.2" />
<line x1="315.50" y1="206.40" x2="317.10" y2="206.40" stroke="#000" stroke-width="1.2" />
<text x="311.10" y="372.43" font-size="11.5" text-anchor="end" font-family="Liberation Sans, sans-serif" >42.0</text>
<text x="311.10" y="347.49" font-size="11.5" text-anchor="end" font-family="Liberation Sans, sans-serif" >42.5</text>
<text x="311.10" y="322.54" font-size="11.5" text-anchor="end" font-family="Liberation Sans, sans-serif" >43.0</text>
<text x="311.10" y="297.60" font-size="11.5" text-anchor="end" font-family="Liberation Sans, sans-serif" >43.5</text>
<text x="311.10" y="272.66" font-size="11.5" text-anchor="end" font-family="Liberation Sans, sans-serif" >44.0</text>
<text x="311.10" y="247.71" font-size="11.5" text-anchor="end" font-family="Liberation Sans, sans-serif" >44.5</text>
<text x="311.10" y="222.77" font-size="11.5" text-anchor="end" font-family="Liberation Sans, sans-serif" >45.0</text>
<line x1="371.60" y1="381.00" x2="371.60" y2="383.70" stroke="#000" stroke-width="1.2" />
<line x1="480.00" y1="381.00" x2="480.00" y2="383.70" stroke="#000" stroke-width="1.2" />
<text x="372.10" y="396.00" font-size="13" text-anchor="middle" font-family="Liberation Sans, sans-serif" >Rising Edge</text>
<text x="480.20" y="396.00" font-size="13" text-anchor="middle" font-family="Liberation Sans, sans-serif" >Falling Edge</text>
<text transform="translate(284.5,293.2) rotate(-90)" font-size="13" text-anchor="middle" font-family="Liberation Sans, sans-serif">Response Time / ms</text>
<line x1="349.90" y1="243.81" x2="349.90" y2="263.77" stroke="#000" stroke-width="1" />
<line x1="349.90" y1="288.71" x2="349.90" y2="293.70" stroke="#000" stroke-width="1" />
<line x1="341.40" y1="243.81" x2="358.40" y2="243.81" stroke="#000" stroke-width="1" />
<line x1="341.40" y1="293.70" x2="358.40" y2="293.70" stroke="#000" stroke-width="1" />
<rect x="333.40" y="263.77" width="33" height="24.94" fill="#52b8f2" stroke="#222" stroke-width="1"/>
<line x1="333.40" y1="276.24" x2="366.40" y2="276.24" stroke="#222" stroke-width="1.2" />
<rect x="348.90" y="272.75" width="2" height="2" fill="none" stroke="#333" stroke-width="0.4"/>
<line x1="458.10" y1="323.63" x2="458.10" y2="338.60" stroke="#000" stroke-width="1" />
<line x1="458.10" y1="358.55" x2="458.10" y2="363.54" stroke="#000" stroke-width="1" />
<line x1="449.60" y1="323.63" x2="466.60" y2="323.63" stroke="#000" stroke-width="1" />
<line x1="449.60" y1="363.54" x2="466.60" y2="363.54" stroke="#000" stroke-width="1" />
<rect x="441.60" y="338.60" width="33" height="19.95" fill="#ff2a12" stroke="#222" stroke-width="1"/>
<line x1="441.60" y1="346.58" x2="474.60" y2="346.58" stroke="#222" stroke-width="1.2" />
<rect x="457.10" y="345.58" width="2" height="2" fill="none" stroke="#333" stroke-width="0.4"/>
<path d="M372.60,241.71 L374.70,243.81 L372.60,245.91 L370.50,243.81Z" fill="#000"/>
<path d="M372.60,261.67 L374.70,263.77 L372.60,265.87 L370.50,263.77Z" fill="#000"/>
<path d="M380.80,266.66 L382.90,268.76 L380.80,270.86 L378.70,268.76Z" fill="#000"/>
<path d="M372.60,281.62 L374.70,283.72 L372.60,285.82 L370.50,283.72Z" fill="#000"/>
<path d="M380.80,291.60 L382.90,293.70 L380.80,295.80 L378.70,293.70Z" fill="#000"/>
<path d="M389.00,286.61 L391.10,288.71 L389.00,290.81 L386.90,288.71Z" fill="#000"/>
<path d="M481.00,321.53 L483.10,323.63 L481.00,325.73 L478.90,323.63Z" fill="#000"/>
<path d="M481.00,346.47 L483.10,348.57 L481.00,350.67 L478.90,348.57Z" fill="#000"/>
<path d="M487.20,336.50 L489.30,338.60 L487.20,340.70 L485.10,338.60Z" fill="#000"/>
<path d="M487.20,341.49 L489.30,343.59 L487.20,345.69 L485.10,343.59Z" fill="#000"/>
<path d="M493.60,356.45 L495.70,358.55 L493.60,360.65 L491.50,358.55Z" fill="#000"/>
<path d="M499.60,361.44 L501.70,363.54 L499.60,365.64 L497.50,363.54Z" fill="#000"/>
<polyline fill="none" stroke="#111" stroke-width="1" points="372.75,218.87 372.80,220.32 372.86,221.76 372.94,223.21 373.03,224.66 373.15,226.10 373.29,227.55 373.46,229.00 373.67,230.44 373.93,231.89 374.22,233.34 374.58,234.78 374.99,236.23 375.46,237.68 376.00,239.13 376.62,240.57 377.32,242.02 378.09,243.47 378.95,244.91 379.88,246.36 380.90,247.81 381.98,249.25 383.13,250.70 384.34,252.15 385.59,253.59 386.87,255.04 388.16,256.49 389.45,257.93 390.71,259.38 391.92,260.83 393.07,262.27 394.13,263.72 395.07,265.17 395.89,266.61 396.56,268.06 397.08,269.51 397.42,270.95 397.58,272.40 397.57,273.85 397.37,275.29 397.00,276.74 396.46,278.19 395.76,279.63 394.92,281.08 393.95,282.53 392.88,283.97 391.72,285.42 390.50,286.87 389.23,288.31 387.94,289.76 386.65,291.21 385.37,292.65 384.13,294.10 382.93,295.55 381.79,296.99 380.72,298.44 379.72,299.89 378.79,301.33 377.95,302.78 377.19,304.23 376.51,305.67 375.90,307.12 375.37,308.57 374.91,310.01 374.51,311.46 374.17,312.91 373.88,314.35 373.64,315.80 373.43,317.25 373.26,318.69 373.13,320.14 373.01,321.59 372.92,323.03 372.85,324.48 372.79,325.93 372.75,327.37 372.71,328.82 372.68,330.27 372.66,331.71 372.65,333.16 372.63,334.61"/>
<polyline fill="none" stroke="#111" stroke-width="1" points="481.05,299.19 481.07,300.05 481.08,300.92 481.10,301.79 481.13,302.65 481.15,303.52 481.19,304.39 481.23,305.25 481.28,306.12 481.34,306.99 481.41,307.86 481.49,308.72 481.59,309.59 481.70,310.46 481.83,311.32 481.98,312.19 482.16,313.06 482.35,313.92 482.58,314.79 482.84,315.66 483.12,316.52 483.45,317.39 483.81,318.26 484.21,319.12 484.65,319.99 485.13,320.86 485.66,321.72 486.24,322.59 486.87,323.46 487.54,324.32 488.26,325.19 489.02,326.06 489.83,326.92 490.68,327.79 491.56,328.66 492.48,329.52 493.43,330.39 494.41,331.26 495.39,332.12 496.39,332.99 497.39,333.86 498.38,334.72 499.35,335.59 500.30,336.46 501.22,337.33 502.09,338.19 502.91,339.06 503.66,339.93 504.34,340.79 504.95,341.66 505.47,342.53 505.89,343.39 506.22,344.26 506.45,345.13 506.58,345.99 506.59,346.86 506.51,347.73 506.32,348.59 506.02,349.46 505.63,350.33 505.14,351.19 504.57,352.06 503.91,352.93 503.18,353.79 502.38,354.66 501.53,355.53 500.63,356.39 499.69,357.26 498.73,358.13 497.74,358.99 496.74,359.86 495.74,360.73 494.75,361.59 493.77,362.46 492.82,363.33 491.88,364.19 490.99,365.06 490.12,365.93 489.30,366.80 488.52,367.66 487.79,368.53"/>
<rect x="317.1" y="206.4" width="216.89999999999998" height="174.6" fill="none" stroke="#111" stroke-width="1.5"/>
<text x="279.10" y="213.10" font-size="24" text-anchor="start" font-family="Liberation Sans, sans-serif" >d</text>
<rect x="564.9" y="202" width="109.3" height="194" fill="#5553a3"/>
<rect x="575.40" y="209.00" width="47.70" height="42.40" fill="#5f5c98" shape-rendering="crispEdges"/>
<rect x="575.40" y="251.40" width="80.10" height="42.60" fill="#5f5c98" shape-rendering="crispEdges"/>
<rect x="591.20" y="223.00" width="16.10" height="14.10" fill="#e8f53c" shape-rendering="crispEdges"/>
<rect x="591.20" y="237.10" width="16.10" height="14.30" fill="#e4f03e" shape-rendering="crispEdges"/>
<rect x="591.20" y="251.40" width="16.10" height="14.60" fill="#d9de42" shape-rendering="crispEdges"/>
<rect x="591.20" y="266.00" width="16.10" height="14.00" fill="#ccd047" shape-rendering="crispEdges"/>
<rect x="607.30" y="266.00" width="15.80" height="14.00" fill="#d6da46" shape-rendering="crispEdges"/>
<rect x="623.10" y="266.00" width="16.10" height="14.00" fill="#cbcd4b" shape-rendering="crispEdges"/>
<rect x="565.00" y="305.00" width="46.30" height="81.40" fill="#5f5c98" shape-rendering="crispEdges"/>
<rect x="626.90" y="305.00" width="47.30" height="81.40" fill="#5f5c98" shape-rendering="crispEdges"/>
<rect x="611.30" y="318.00" width="15.60" height="68.40" fill="#5f5c98" shape-rendering="crispEdges"/>
<rect x="580.10" y="318.00" width="15.60" height="28.00" fill="#e8f53c" shape-rendering="crispEdges"/>
<rect x="580.10" y="346.00" width="15.60" height="13.20" fill="#e2ea3e" shape-rendering="crispEdges"/>
<rect x="580.10" y="359.20" width="15.60" height="13.50" fill="#cdd044" shape-rendering="crispEdges"/>
<rect x="595.70" y="332.00" width="15.60" height="14.00" fill="#c5c450" shape-rendering="crispEdges"/>
<rect x="611.30" y="346.00" width="15.60" height="13.20" fill="#dde240" shape-rendering="crispEdges"/>
<rect x="626.90" y="332.00" width="15.60" height="14.00" fill="#b9b653" shape-rendering="crispEdges"/>
<rect x="642.50" y="318.00" width="15.60" height="14.00" fill="#aeaa56" shape-rendering="crispEdges"/>
<rect x="642.50" y="332.00" width="15.60" height="14.00" fill="#e8f53c" shape-rendering="crispEdges"/>
<rect x="642.50" y="346.00" width="15.60" height="13.20" fill="#b4b054" shape-rendering="crispEdges"/>
<rect x="642.50" y="359.20" width="15.60" height="13.50" fill="#e5ee3c" shape-rendering="crispEdges"/>
<text x="592.30" y="221.20" font-size="15.4" text-anchor="start" font-family="Liberation Sans, sans-serif" font-weight="bold" fill="#fff">Letter “L”</text>
<text x="590.50" y="311.60" font-size="15.4" text-anchor="start" font-family="Liberation Sans, sans-serif" font-weight="bold" fill="#fff">Letter “M”</text>
<text x="537.80" y="213.30" font-size="24" text-anchor="start" font-family="Liberation Sans, sans-serif" >e</text>
<line x1="84.00" y1="710.30" x2="89.00" y2="710.30" stroke="#000" stroke-width="1.5" />
<line x1="86.60" y1="693.76" x2="89.00" y2="693.76" stroke="#000" stroke-width="1.5" />
<line x1="86.60" y1="684.08" x2="89.00" y2="684.08" stroke="#000" stroke-width="1.5" />
<line x1="86.60" y1="677.22" x2="89.00" y2="677.22" stroke="#000" stroke-width="1.5" />
<line x1="86.60" y1="671.89" x2="89.00" y2="671.89" stroke="#000" stroke-width="1.5" />
<line x1="86.60" y1="667.54" x2="89.00" y2="667.54" stroke="#000" stroke-width="1.5" />
<line x1="86.60" y1="663.86" x2="89.00" y2="663.86" stroke="#000" stroke-width="1.5" />
<line x1="86.60" y1="660.68" x2="89.00" y2="660.68" stroke="#000" stroke-width="1.5" />
<line x1="86.60" y1="657.86" x2="89.00" y2="657.86" stroke="#000" stroke-width="1.5" />
<line x1="84.00" y1="655.35" x2="89.00" y2="655.35" stroke="#000" stroke-width="1.5" />
<line x1="86.60" y1="638.81" x2="89.00" y2="638.81" stroke="#000" stroke-width="1.5" />
<line x1="86.60" y1="629.13" x2="89.00" y2="629.13" stroke="#000" stroke-width="1.5" />
<line x1="86.60" y1="622.27" x2="89.00" y2="622.27" stroke="#000" stroke-width="1.5" />
<line x1="86.60" y1="616.94" x2="89.00" y2="616.94" stroke="#000" stroke-width="1.5" />
<line x1="86.60" y1="612.59" x2="89.00" y2="612.59" stroke="#000" stroke-width="1.5" />
<line x1="86.60" y1="608.91" x2="89.00" y2="608.91" stroke="#000" stroke-width="1.5" />
<line x1="86.60" y1="605.73" x2="89.00" y2="605.73" stroke="#000" stroke-width="1.5" />
<line x1="86.60" y1="602.91" x2="89.00" y2="602.91" stroke="#000" stroke-width="1.5" />
<line x1="84.00" y1="600.40" x2="89.00" y2="600.40" stroke="#000" stroke-width="1.5" />
<line x1="86.60" y1="583.86" x2="89.00" y2="583.86" stroke="#000" stroke-width="1.5" />
<line x1="86.60" y1="574.18" x2="89.00" y2="574.18" stroke="#000" stroke-width="1.5" />
<line x1="86.60" y1="567.32" x2="89.00" y2="567.32" stroke="#000" stroke-width="1.5" />
<line x1="86.60" y1="561.99" x2="89.00" y2="561.99" stroke="#000" stroke-width="1.5" />
<line x1="86.60" y1="557.64" x2="89.00" y2="557.64" stroke="#000" stroke-width="1.5" />
<line x1="86.60" y1="553.96" x2="89.00" y2="553.96" stroke="#000" stroke-width="1.5" />
<line x1="86.60" y1="550.78" x2="89.00" y2="550.78" stroke="#000" stroke-width="1.5" />
<line x1="86.60" y1="547.96" x2="89.00" y2="547.96" stroke="#000" stroke-width="1.5" />
<line x1="84.00" y1="545.45" x2="89.00" y2="545.45" stroke="#000" stroke-width="1.5" />
<line x1="86.60" y1="528.91" x2="89.00" y2="528.91" stroke="#000" stroke-width="1.5" />
<line x1="86.60" y1="519.23" x2="89.00" y2="519.23" stroke="#000" stroke-width="1.5" />
<line x1="86.60" y1="512.37" x2="89.00" y2="512.37" stroke="#000" stroke-width="1.5" />
<line x1="86.60" y1="507.04" x2="89.00" y2="507.04" stroke="#000" stroke-width="1.5" />
<line x1="86.60" y1="502.69" x2="89.00" y2="502.69" stroke="#000" stroke-width="1.5" />
<line x1="86.60" y1="499.01" x2="89.00" y2="499.01" stroke="#000" stroke-width="1.5" />
<line x1="86.60" y1="495.83" x2="89.00" y2="495.83" stroke="#000" stroke-width="1.5" />
<line x1="86.60" y1="493.01" x2="89.00" y2="493.01" stroke="#000" stroke-width="1.5" />
<line x1="84.00" y1="490.50" x2="89.00" y2="490.50" stroke="#000" stroke-width="1.5" />
<line x1="86.60" y1="473.96" x2="89.00" y2="473.96" stroke="#000" stroke-width="1.5" />
<line x1="86.60" y1="464.28" x2="89.00" y2="464.28" stroke="#000" stroke-width="1.5" />
<line x1="86.60" y1="457.42" x2="89.00" y2="457.42" stroke="#000" stroke-width="1.5" />
<line x1="86.60" y1="452.09" x2="89.00" y2="452.09" stroke="#000" stroke-width="1.5" />
<line x1="86.60" y1="447.74" x2="89.00" y2="447.74" stroke="#000" stroke-width="1.5" />
<line x1="86.60" y1="444.06" x2="89.00" y2="444.06" stroke="#000" stroke-width="1.5" />
<line x1="86.60" y1="440.88" x2="89.00" y2="440.88" stroke="#000" stroke-width="1.5" />
<line x1="86.60" y1="438.06" x2="89.00" y2="438.06" stroke="#000" stroke-width="1.5" />
<line x1="84.00" y1="435.55" x2="89.00" y2="435.55" stroke="#000" stroke-width="1.5" />
<line x1="86.60" y1="419.01" x2="89.00" y2="419.01" stroke="#000" stroke-width="1.5" />
<line x1="445.93" y1="710.20" x2="445.93" y2="712.60" stroke="#000" stroke-width="1.5" />
<line x1="441.61" y1="710.20" x2="441.61" y2="712.60" stroke="#000" stroke-width="1.5" />
<line x1="437.86" y1="710.20" x2="437.86" y2="712.60" stroke="#000" stroke-width="1.5" />
<line x1="434.56" y1="710.20" x2="434.56" y2="712.60" stroke="#000" stroke-width="1.5" />
<line x1="431.60" y1="710.20" x2="431.60" y2="715.20" stroke="#000" stroke-width="1.5" />
<line x1="412.15" y1="710.20" x2="412.15" y2="712.60" stroke="#000" stroke-width="1.5" />
<line x1="400.78" y1="710.20" x2="400.78" y2="712.60" stroke="#000" stroke-width="1.5" />
<line x1="392.71" y1="710.20" x2="392.71" y2="712.60" stroke="#000" stroke-width="1.5" />
<line x1="386.45" y1="710.20" x2="386.45" y2="712.60" stroke="#000" stroke-width="1.5" />
<line x1="381.33" y1="710.20" x2="381.33" y2="712.60" stroke="#000" stroke-width="1.5" />
<line x1="377.01" y1="710.20" x2="377.01" y2="712.60" stroke="#000" stroke-width="1.5" />
<line x1="373.26" y1="710.20" x2="373.26" y2="712.60" stroke="#000" stroke-width="1.5" />
<line x1="369.96" y1="710.20" x2="369.96" y2="712.60" stroke="#000" stroke-width="1.5" />
<line x1="367.00" y1="710.20" x2="367.00" y2="715.20" stroke="#000" stroke-width="1.5" />
<line x1="347.55" y1="710.20" x2="347.55" y2="712.60" stroke="#000" stroke-width="1.5" />
<line x1="336.18" y1="710.20" x2="336.18" y2="712.60" stroke="#000" stroke-width="1.5" />
<line x1="328.11" y1="710.20" x2="328.11" y2="712.60" stroke="#000" stroke-width="1.5" />
<line x1="321.85" y1="710.20" x2="321.85" y2="712.60" stroke="#000" stroke-width="1.5" />
<line x1="316.73" y1="710.20" x2="316.73" y2="712.60" stroke="#000" stroke-width="1.5" />
<line x1="312.41" y1="710.20" x2="312.41" y2="712.60" stroke="#000" stroke-width="1.5" />
<line x1="308.66" y1="710.20" x2="308.66" y2="712.60" stroke="#000" stroke-width="1.5" />
<line x1="305.36" y1="710.20" x2="305.36" y2="712.60" stroke="#000" stroke-width="1.5" />
<line x1="302.40" y1="710.20" x2="302.40" y2="715.20" stroke="#000" stroke-width="1.5" />
<line x1="282.95" y1="710.20" x2="282.95" y2="712.60" stroke="#000" stroke-width="1.5" />
<line x1="271.58" y1="710.20" x2="271.58" y2="712.60" stroke="#000" stroke-width="1.5" />
<line x1="263.51" y1="710.20" x2="263.51" y2="712.60" stroke="#000" stroke-width="1.5" />
<line x1="257.25" y1="710.20" x2="257.25" y2="712.60" stroke="#000" stroke-width="1.5" />
<line x1="252.13" y1="710.20" x2="252.13" y2="712.60" stroke="#000" stroke-width="1.5" />
<line x1="247.81" y1="710.20" x2="247.81" y2="712.60" stroke="#000" stroke-width="1.5" />
<line x1="244.06" y1="710.20" x2="244.06" y2="712.60" stroke="#000" stroke-width="1.5" />
<line x1="240.76" y1="710.20" x2="240.76" y2="712.60" stroke="#000" stroke-width="1.5" />
<line x1="237.80" y1="710.20" x2="237.80" y2="715.20" stroke="#000" stroke-width="1.5" />
<line x1="218.35" y1="710.20" x2="218.35" y2="712.60" stroke="#000" stroke-width="1.5" />
<line x1="206.98" y1="710.20" x2="206.98" y2="712.60" stroke="#000" stroke-width="1.5" />
<line x1="198.91" y1="710.20" x2="198.91" y2="712.60" stroke="#000" stroke-width="1.5" />
<line x1="192.65" y1="710.20" x2="192.65" y2="712.60" stroke="#000" stroke-width="1.5" />
<line x1="187.53" y1="710.20" x2="187.53" y2="712.60" stroke="#000" stroke-width="1.5" />
<line x1="183.21" y1="710.20" x2="183.21" y2="712.60" stroke="#000" stroke-width="1.5" />
<line x1="179.46" y1="710.20" x2="179.46" y2="712.60" stroke="#000" stroke-width="1.5" />
<line x1="176.16" y1="710.20" x2="176.16" y2="712.60" stroke="#000" stroke-width="1.5" />
<line x1="173.20" y1="710.20" x2="173.20" y2="715.20" stroke="#000" stroke-width="1.5" />
<line x1="153.75" y1="710.20" x2="153.75" y2="712.60" stroke="#000" stroke-width="1.5" />
<line x1="142.38" y1="710.20" x2="142.38" y2="712.60" stroke="#000" stroke-width="1.5" />
<line x1="134.31" y1="710.20" x2="134.31" y2="712.60" stroke="#000" stroke-width="1.5" />
<line x1="128.05" y1="710.20" x2="128.05" y2="712.60" stroke="#000" stroke-width="1.5" />
<line x1="122.93" y1="710.20" x2="122.93" y2="712.60" stroke="#000" stroke-width="1.5" />
<line x1="118.61" y1="710.20" x2="118.61" y2="712.60" stroke="#000" stroke-width="1.5" />
<line x1="114.86" y1="710.20" x2="114.86" y2="712.60" stroke="#000" stroke-width="1.5" />
<line x1="111.56" y1="710.20" x2="111.56" y2="712.60" stroke="#000" stroke-width="1.5" />
<line x1="108.60" y1="710.20" x2="108.60" y2="715.20" stroke="#000" stroke-width="1.5" />
<line x1="89.15" y1="710.20" x2="89.15" y2="712.60" stroke="#000" stroke-width="1.5" />
<text x="77.50" y="440.75" font-size="17" text-anchor="end" font-family="Liberation Sans, sans-serif" >10000</text>
<text x="77.50" y="495.70" font-size="17" text-anchor="end" font-family="Liberation Sans, sans-serif" >1000</text>
<text x="77.50" y="550.65" font-size="17" text-anchor="end" font-family="Liberation Sans, sans-serif" >100</text>
<text x="77.50" y="605.60" font-size="17" text-anchor="end" font-family="Liberation Sans, sans-serif" >10</text>
<text x="77.50" y="660.55" font-size="17" text-anchor="end" font-family="Liberation Sans, sans-serif" >1</text>
<text x="77.50" y="715.50" font-size="17" text-anchor="end" font-family="Liberation Sans, sans-serif" >0.1</text>
<text x="108.60" y="733.80" font-size="17" text-anchor="middle" font-family="Liberation Sans, sans-serif" >1000</text>
<text x="173.20" y="733.80" font-size="17" text-anchor="middle" font-family="Liberation Sans, sans-serif" >100</text>
<text x="237.80" y="733.80" font-size="17" text-anchor="middle" font-family="Liberation Sans, sans-serif" >10</text>
<text x="302.40" y="733.80" font-size="17" text-anchor="middle" font-family="Liberation Sans, sans-serif" >1</text>
<text x="367.00" y="733.80" font-size="17" text-anchor="middle" font-family="Liberation Sans, sans-serif" >0.1</text>
<text x="431.60" y="733.80" font-size="17" text-anchor="middle" font-family="Liberation Sans, sans-serif" >0.01</text>
<text x="270.70" y="754.50" font-size="20.5" text-anchor="middle" font-family="Liberation Sans, sans-serif" >Driving Voltage / V</text>
<text transform="translate(31.2,564.3) rotate(-90)" font-size="20.8" text-anchor="middle" font-family="Liberation Sans, sans-serif">Sensitivity / μC Gy<tspan font-size="13" dy="-8">-1</tspan><tspan dy="8"> cm</tspan><tspan font-size="13" dy="-8">-2</tspan></text>
<rect x="89" y="419" width="362" height="291.20000000000005" fill="none" stroke="#000" stroke-width="2"/>
<text x="5.30" y="421.80" font-size="24.5" text-anchor="start" font-family="Liberation Sans, sans-serif" >f</text>
<defs><filter id="sb" x="-50%" y="-50%" width="200%" height="200%"><feGaussianBlur stdDeviation="0.35"/></filter><radialGradient id="sph" cx="0.4" cy="0.4" r="0.65" fx="0.36" fy="0.35"><stop offset="0" stop-color="#fff"/><stop offset="0.1" stop-color="#f0d8f4"/><stop offset="0.22" stop-color="#b06cc0"/><stop offset="0.45" stop-color="#8a20a0"/><stop offset="1" stop-color="#6c0c88"/></radialGradient></defs>
<rect x="422.25" y="636.05" width="19.50" height="19.50" fill="#fff" stroke="#1a1ad0" stroke-width="1.5"/><rect x="422.25" y="636.05" width="19.50" height="9.75" fill="#1a1ad0" stroke="#1a1ad0" stroke-width="1.5"/>
<polygon points="192.40,597.40 203.40,603.60 203.40,616.00 192.40,622.20 181.40,616.00 181.40,603.60" fill="#fff" stroke="#8a8a1c" stroke-width="1.5" stroke-linejoin="miter"/><polygon points="192.40,597.40 192.40,597.40 192.40,622.20 192.40,622.20 181.40,616.00 181.40,603.60" fill="#8a8a1c" stroke="#8a8a1c" stroke-width="1.5" stroke-linejoin="miter"/>
<polygon points="336.60,591.20 349.25,600.39 344.42,615.26 328.78,615.26 323.95,600.39" fill="#fff" stroke="#2e8b1e" stroke-width="1.5" stroke-linejoin="miter"/><polygon points="336.60,591.20 349.25,600.39 344.42,615.26 336.60,615.26 336.60,591.20" fill="#2e8b1e" stroke="#2e8b1e" stroke-width="1.5" stroke-linejoin="miter"/>
<line x1="249.30" y1="603.20" x2="278.30" y2="632.20" stroke="#2424b4" stroke-width="1.5"/><line x1="278.30" y1="603.20" x2="249.30" y2="632.20" stroke="#2424b4" stroke-width="1.5"/><line x1="263.80" y1="603.20" x2="278.30" y2="617.70" stroke="#2424b4" stroke-width="1.5"/><line x1="249.30" y1="617.70" x2="263.80" y2="632.20" stroke="#2424b4" stroke-width="1.5"/><line x1="263.80" y1="603.20" x2="249.30" y2="617.70" stroke="#2424b4" stroke-width="1.5"/><line x1="278.30" y1="617.70" x2="263.80" y2="632.20" stroke="#2424b4" stroke-width="1.5"/>
<rect x="422.25" y="687.65" width="19.50" height="19.50" fill="#fff" stroke="#000" stroke-width="1.5"/><rect x="422.25" y="687.65" width="9.75" height="19.50" fill="#000" stroke="#000" stroke-width="1.5"/>
<circle cx="367.20" cy="481.70" r="11.20" fill="#fff" stroke="#8c10f5" stroke-width="1.5"/><path d="M356.00,481.70 A11.20,11.20 0 0 1 378.40,481.70 Z" fill="#8c10f5" stroke="#8c10f5" stroke-width="1.5"/>
<polygon points="101.20,503.50 124.00,516.30 101.20,529.10" fill="#fff" stroke="#1414e6" stroke-width="1.5" stroke-linejoin="miter"/><polygon points="108.50,507.60 124.00,516.30 108.50,525.00" fill="#1414e6" stroke="#1414e6" stroke-width="1.5" stroke-linejoin="miter"/>
<circle cx="128.10" cy="590.90" r="11.90" fill="#8a1a9c"/><circle cx="124.60" cy="587.10" r="5.80" fill="#b46cc6" filter="url(#sb)"/><circle cx="124.60" cy="587.10" r="4.60" fill="#d4a2e0" filter="url(#sb)"/><circle cx="124.60" cy="587.10" r="3.00" fill="#ebd0f0" filter="url(#sb)"/><circle cx="124.60" cy="587.10" r="1.60" fill="#ffffff" filter="url(#sb)"/>
<polygon points="134.20,553.50 147.50,567.70 134.20,581.90 120.90,567.70" fill="#fff" stroke="#3d8f86" stroke-width="1.5" stroke-linejoin="miter"/><polygon points="134.20,553.50 134.20,553.50 134.20,581.90 134.20,581.90 120.90,567.70" fill="#3d8f86" stroke="#3d8f86" stroke-width="1.5" stroke-linejoin="miter"/>
<polygon points="142.60,550.20 156.00,572.40 129.20,572.40" fill="#fff" stroke="#f0821e" stroke-width="1.5" stroke-linejoin="miter"/><polygon points="142.60,550.20 156.00,572.40 142.60,572.40 142.60,550.20" fill="#f0821e" stroke="#f0821e" stroke-width="1.5" stroke-linejoin="miter"/>
<polygon points="302.40,498.30 313.40,504.50 313.40,516.90 302.40,523.10 291.40,516.90 291.40,504.50" fill="#fff" stroke="#11119a" stroke-width="1.5" stroke-linejoin="miter"/><polygon points="313.40,510.70 313.40,516.90 302.40,523.10 291.40,516.90 291.40,510.70" fill="#11119a" stroke="#11119a" stroke-width="1.5" stroke-linejoin="miter"/>
<circle cx="302.40" cy="482.40" r="11.20" fill="#fff" stroke="#7f1010" stroke-width="1.5"/><path d="M302.40,471.20 A11.20,11.20 0 0 0 302.40,493.60 Z" fill="#7f1010" stroke="#7f1010" stroke-width="1.5"/>
<polygon points="238.00,429.10 242.28,441.41 255.31,441.68 244.92,449.55 248.70,462.02 238.00,454.58 227.30,462.02 231.08,449.55 220.69,441.68 233.72,441.41" fill="#ff2312"/>
<text x="155.00" y="451.20" font-size="15.3" text-anchor="start" font-family="Liberation Serif, serif" fill="#111">This work</text>
<rect x="464.95" y="421.45" width="16.50" height="16.50" fill="#fff" stroke="#1a1ad0" stroke-width="1.5"/><rect x="464.95" y="421.45" width="16.50" height="8.25" fill="#1a1ad0" stroke="#1a1ad0" stroke-width="1.5"/>
<text x="490.10" y="435.20" font-size="15.4" text-anchor="start" font-family="Liberation Serif, serif" fill="#111">CH<tspan font-size="10" dy="3">3</tspan><tspan dy="-3">NH</tspan><tspan font-size="10" dy="3">3</tspan><tspan dy="-3">PbI</tspan><tspan font-size="10" dy="3">3</tspan><tspan dy="-3"> (Ref. 3)</tspan></text>
<polygon points="473.20,445.90 481.60,450.55 481.60,459.85 473.20,464.50 464.80,459.85 464.80,450.55" fill="#fff" stroke="#8a8a1c" stroke-width="1.5" stroke-linejoin="miter"/><polygon points="473.20,445.90 473.20,445.90 473.20,464.50 473.20,464.50 464.80,459.85 464.80,450.55" fill="#8a8a1c" stroke="#8a8a1c" stroke-width="1.5" stroke-linejoin="miter"/>
<text x="490.10" y="460.40" font-size="15.4" text-anchor="start" font-family="Liberation Serif, serif" fill="#111">Amorphous Ga<tspan font-size="10" dy="3">2</tspan><tspan dy="-3">O</tspan><tspan font-size="10" dy="3">3</tspan><tspan dy="-3"> (Ref. 53)</tspan></text>
<polygon points="473.20,472.10 482.52,478.87 478.96,489.83 467.44,489.83 463.88,478.87" fill="#fff" stroke="#2e8b1e" stroke-width="1.5" stroke-linejoin="miter"/><polygon points="473.20,472.10 482.52,478.87 478.96,489.83 473.20,489.83 473.20,472.10" fill="#2e8b1e" stroke="#2e8b1e" stroke-width="1.5" stroke-linejoin="miter"/>
<text x="490.10" y="486.60" font-size="15.4" text-anchor="start" font-family="Liberation Serif, serif" fill="#111">IGZO (Ref. 54)</text>
<line x1="463.80" y1="500.20" x2="481.40" y2="517.80" stroke="#2424b4" stroke-width="1.5"/><line x1="481.40" y1="500.20" x2="463.80" y2="517.80" stroke="#2424b4" stroke-width="1.5"/><line x1="472.60" y1="500.20" x2="481.40" y2="509.00" stroke="#2424b4" stroke-width="1.5"/><line x1="463.80" y1="509.00" x2="472.60" y2="517.80" stroke="#2424b4" stroke-width="1.5"/><line x1="472.60" y1="500.20" x2="463.80" y2="509.00" stroke="#2424b4" stroke-width="1.5"/><line x1="481.40" y1="509.00" x2="472.60" y2="517.80" stroke="#2424b4" stroke-width="1.5"/>
<text x="490.10" y="514.20" font-size="15.4" text-anchor="start" font-family="Liberation Serif, serif" fill="#111">Pentacene (Ref. 55)</text>
<circle cx="472.60" cy="536.40" r="9.40" fill="#8a1a9c"/><circle cx="469.84" cy="533.40" r="4.58" fill="#b46cc6" filter="url(#sb)"/><circle cx="469.84" cy="533.40" r="3.63" fill="#d4a2e0" filter="url(#sb)"/><circle cx="469.84" cy="533.40" r="2.37" fill="#ebd0f0" filter="url(#sb)"/><circle cx="469.84" cy="533.40" r="1.26" fill="#ffffff" filter="url(#sb)"/>
<text x="490.10" y="541.80" font-size="15.4" text-anchor="start" font-family="Liberation Serif, serif" fill="#111">κ-Ga<tspan font-size="10" dy="3">2</tspan><tspan dy="-3">O</tspan><tspan font-size="10" dy="3">3</tspan><tspan dy="-3"> (Ref. 28)</tspan></text>
<rect x="465.90" y="556.80" width="15.80" height="15.80" fill="#fff" stroke="#000" stroke-width="1.5"/><rect x="465.90" y="556.80" width="7.90" height="15.80" fill="#000" stroke="#000" stroke-width="1.5"/>
<text x="491.20" y="570.00" font-size="15.4" text-anchor="start" font-family="Liberation Serif, serif" fill="#111">GaN (Ref. 2)</text>
<circle cx="474.00" cy="590.40" r="8.60" fill="#fff" stroke="#8c10f5" stroke-width="1.5"/><path d="M465.40,590.40 A8.60,8.60 0 0 1 482.60,590.40 Z" fill="#8c10f5" stroke="#8c10f5" stroke-width="1.5"/>
<text x="491.20" y="595.40" font-size="15.4" text-anchor="start" font-family="Liberation Serif, serif" fill="#111">CsPbBr<tspan font-size="10" dy="3">3</tspan><tspan dy="-3"> (Ref. 56)</tspan></text>
<polygon points="465.60,606.50 482.60,615.70 465.60,624.90" fill="#fff" stroke="#1414e6" stroke-width="1.5" stroke-linejoin="miter"/><polygon points="472.00,609.96 482.60,615.70 472.00,621.44" fill="#1414e6" stroke="#1414e6" stroke-width="1.5" stroke-linejoin="miter"/>
<text x="491.20" y="621.00" font-size="15.4" text-anchor="start" font-family="Liberation Serif, serif" fill="#111">β-Ga<tspan font-size="10" dy="3">2</tspan><tspan dy="-3">O</tspan><tspan font-size="10" dy="3">3</tspan><tspan dy="-3"> / Mg (Ref. 57)</tspan></text>
<polygon points="473.20,632.80 482.80,642.40 473.20,652.00 463.60,642.40" fill="#fff" stroke="#3d8f86" stroke-width="1.5" stroke-linejoin="miter"/><polygon points="473.20,632.80 473.20,632.80 473.20,652.00 473.20,652.00 463.60,642.40" fill="#3d8f86" stroke="#3d8f86" stroke-width="1.5" stroke-linejoin="miter"/>
<text x="490.70" y="648.80" font-size="15.4" text-anchor="start" font-family="Liberation Serif, serif" fill="#111">Cs<tspan font-size="10" dy="3">2</tspan><tspan dy="-3">AgBiBr</tspan><tspan font-size="10" dy="3">6</tspan><tspan dy="-3"> (Ref. 58)</tspan></text>
<polygon points="473.20,659.60 483.40,677.60 463.00,677.60" fill="#fff" stroke="#f0821e" stroke-width="1.5" stroke-linejoin="miter"/><polygon points="473.20,659.60 483.40,677.60 473.20,677.60 473.20,659.60" fill="#f0821e" stroke="#f0821e" stroke-width="1.5" stroke-linejoin="miter"/>
<text x="490.70" y="673.80" font-size="15.4" text-anchor="start" font-family="Liberation Serif, serif" fill="#111">Diamond (Ref. 59)</text>
<polygon points="473.20,683.50 482.50,688.75 482.50,699.25 473.20,704.50 463.90,699.25 463.90,688.75" fill="#fff" stroke="#11119a" stroke-width="1.5" stroke-linejoin="miter"/><polygon points="482.50,694.00 482.50,699.25 473.20,704.50 463.90,699.25 463.90,694.00" fill="#11119a" stroke="#11119a" stroke-width="1.5" stroke-linejoin="miter"/>
<text x="490.70" y="699.20" font-size="15.4" text-anchor="start" font-family="Liberation Serif, serif" fill="#111">Quantum Dots (Ref. 60)</text>
<circle cx="473.20" cy="720.00" r="9.40" fill="#fff" stroke="#7f1010" stroke-width="1.5"/><path d="M473.20,710.60 A9.40,9.40 0 0 0 473.20,729.40 Z" fill="#7f1010" stroke="#7f1010" stroke-width="1.5"/>
<text x="490.40" y="725.20" font-size="15.4" text-anchor="start" font-family="Liberation Serif, serif" fill="#111">Perovskites (Ref. 61)</text>
<polygon points="473.20,735.30 476.07,743.55 484.80,743.73 477.84,749.01 480.37,757.37 473.20,752.38 466.03,757.37 468.56,749.01 461.60,743.73 470.33,743.55" fill="#ff2312"/>
<text x="490.70" y="753.20" font-size="15.4" text-anchor="start" font-family="Liberation Serif, serif" fill="#111">This work</text>
</svg>
</body></html>
